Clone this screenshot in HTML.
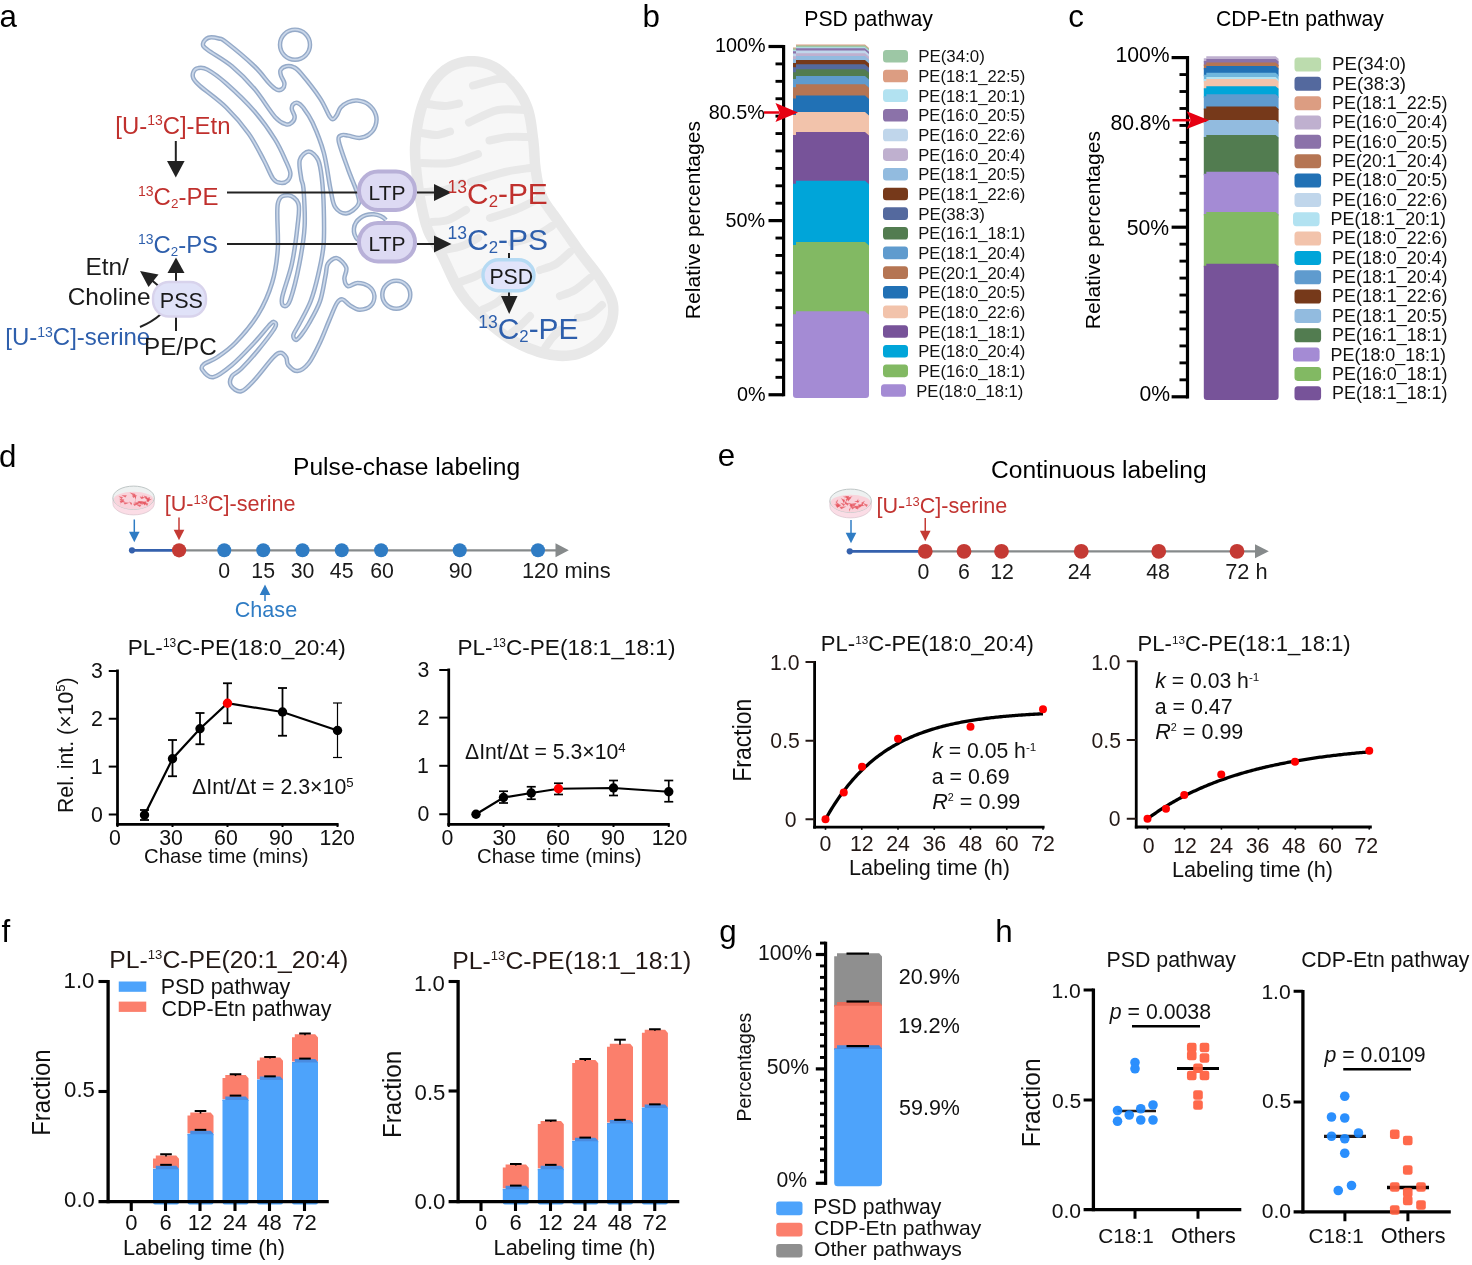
<!DOCTYPE html>
<html lang="en"><head><meta charset="utf-8"><title>Figure</title>
<style>html,body{margin:0;padding:0;background:#fff}svg{display:block}text{white-space:pre}</style>
</head><body>
<svg width="1472" height="1265" viewBox="0 0 1472 1265" font-family='"Liberation Sans", sans-serif' fill="#000">
<rect width="1472" height="1265" fill="#fff"/>
<g id="panel-a">
<text x="-0.45" y="26.90" font-size="31.30">a</text>
<path d="M471.00 56.00C462.67 56.00 454.08 58.50 447.00 62.50C439.92 66.50 433.67 72.42 428.50 80.00C423.33 87.58 419.03 98.00 416.00 108.00C412.97 118.00 411.22 130.50 410.30 140.00C409.38 149.50 409.72 155.00 410.50 165.00C411.28 175.00 412.92 188.83 415.00 200.00C417.08 211.17 419.50 222.83 423.00 232.00C426.50 241.17 430.50 244.50 436.00 255.00C441.50 265.50 448.67 283.83 456.00 295.00C463.33 306.17 471.00 313.67 480.00 322.00C489.00 330.33 499.17 338.83 510.00 345.00C520.83 351.17 534.17 356.50 545.00 359.00C555.83 361.50 565.83 361.83 575.00 360.00C584.17 358.17 593.33 353.33 600.00 348.00C606.67 342.67 612.00 335.50 615.00 328.00C618.00 320.50 619.50 311.33 618.00 303.00C616.50 294.67 611.50 286.83 606.00 278.00C600.50 269.17 592.50 260.33 585.00 250.00C577.50 239.67 567.33 225.17 561.00 216.00C554.67 206.83 550.33 202.67 547.00 195.00C543.67 187.33 542.42 179.17 541.00 170.00C539.58 160.83 539.83 150.33 538.50 140.00C537.17 129.67 536.08 117.33 533.00 108.00C529.92 98.67 526.00 91.58 520.00 84.00C514.00 76.42 505.17 67.17 497.00 62.50C488.83 57.83 479.33 56.00 471.00 56.00Z" fill="#e8e8e8"/>
<path d="M471.0 66.5 L466.2 66.8 L461.3 67.9 L456.6 69.5 L452.2 71.6 L448.1 74.3 L444.2 77.5 L440.6 81.4 L437.2 85.9 L434.0 91.1 L431.1 97.3 L428.4 104.1 L426.1 111.0 L424.2 118.2 L422.7 125.9 L421.6 133.7 L420.8 141.0 L420.3 147.0 L420.3 152.1 L420.5 157.6 L421.0 164.2 L421.7 172.0 L422.7 180.8 L423.9 189.7 L425.3 198.1 L426.9 206.3 L428.7 214.3 L430.6 221.7 L432.8 228.2 L435.0 233.0 L437.6 237.3 L441.1 242.7 L445.3 250.1 L449.9 259.7 L454.8 270.3 L459.9 280.7 L464.8 289.3 L469.8 296.3 L475.1 302.5 L480.8 308.3 L487.1 314.3 L493.8 320.3 L500.8 326.0 L507.9 331.3 L515.2 335.9 L523.0 340.0 L531.4 343.6 L539.7 346.6 L547.4 348.8 L554.4 350.1 L561.0 350.6 L567.1 350.5 L572.9 349.7 L578.3 348.2 L583.8 345.9 L588.9 343.0 L593.4 339.8 L597.2 336.4 L600.5 332.5 L603.2 328.4 L605.3 324.1 L606.8 319.4 L607.8 314.4 L608.1 309.5 L607.7 304.9 L606.4 300.5 L604.2 295.5 L601.0 289.9 L597.1 283.6 L593.0 277.6 L588.0 271.1 L582.4 264.0 L576.5 256.2 L570.4 247.7 L564.0 238.6 L557.8 229.7 L552.4 222.0 L548.2 216.2 L544.4 211.1 L540.7 205.6 L537.4 199.2 L534.8 192.2 L533.0 185.3 L531.7 178.5 L530.6 171.5 L529.7 163.8 L529.2 156.0 L528.8 148.5 L528.1 141.3 L527.1 133.2 L526.0 125.2 L524.7 117.7 L523.0 111.2 L520.9 105.5 L518.4 100.4 L515.4 95.5 L511.8 90.5 L507.2 85.1 L502.0 79.7 L496.7 75.0 L491.8 71.6 L486.9 69.3 L481.7 67.7 L476.3 66.8 Z" fill="#f7f7f7"/>
<path d="M511.00 80.00C508.83 79.83 504.33 78.08 498.00 79.00C491.67 79.92 477.17 84.42 473.00 85.50" fill="none" stroke="#e8e8e8" stroke-width="8" stroke-linecap="round"/>
<path d="M526.00 110.00C521.33 110.00 507.50 107.92 498.00 110.00C488.50 112.08 473.83 120.42 469.00 122.50" fill="none" stroke="#e8e8e8" stroke-width="8" stroke-linecap="round"/>
<path d="M528.00 137.00C524.67 137.00 514.42 136.42 508.00 137.00C501.58 137.58 492.58 139.92 489.50 140.50" fill="none" stroke="#e8e8e8" stroke-width="8" stroke-linecap="round"/>
<path d="M530.00 168.00C525.83 168.67 514.83 169.67 505.00 172.00C495.17 174.33 476.67 180.33 471.00 182.00" fill="none" stroke="#e8e8e8" stroke-width="8" stroke-linecap="round"/>
<path d="M536.00 200.00C532.50 201.67 522.67 207.00 515.00 210.00C507.33 213.00 494.17 216.67 490.00 218.00" fill="none" stroke="#e8e8e8" stroke-width="8" stroke-linecap="round"/>
<path d="M552.00 226.00C549.17 227.67 541.67 233.17 535.00 236.00C528.33 238.83 515.83 241.83 512.00 243.00" fill="none" stroke="#e8e8e8" stroke-width="8" stroke-linecap="round"/>
<path d="M570.00 252.00C567.67 254.00 561.00 261.00 556.00 264.00C551.00 267.00 542.67 269.00 540.00 270.00" fill="none" stroke="#e8e8e8" stroke-width="8" stroke-linecap="round"/>
<path d="M590.00 278.00C587.50 280.00 580.00 287.00 575.00 290.00C570.00 293.00 562.50 295.00 560.00 296.00" fill="none" stroke="#e8e8e8" stroke-width="8" stroke-linecap="round"/>
<path d="M602.00 305.00C600.00 306.67 594.00 312.83 590.00 315.00C586.00 317.17 580.00 317.50 578.00 318.00" fill="none" stroke="#e8e8e8" stroke-width="8" stroke-linecap="round"/>
<path d="M428.00 104.00C430.83 104.33 439.83 106.08 445.00 106.00C450.17 105.92 456.67 103.92 459.00 103.50" fill="none" stroke="#e8e8e8" stroke-width="8" stroke-linecap="round"/>
<path d="M422.00 133.00C424.50 133.33 432.33 135.25 437.00 135.00C441.67 134.75 447.83 132.08 450.00 131.50" fill="none" stroke="#e8e8e8" stroke-width="8" stroke-linecap="round"/>
<path d="M422.00 163.00C426.67 163.00 440.67 164.50 450.00 163.00C459.33 161.50 473.33 155.50 478.00 154.00" fill="none" stroke="#e8e8e8" stroke-width="8" stroke-linecap="round"/>
<path d="M425.00 192.00C428.33 191.67 438.83 191.50 445.00 190.00C451.17 188.50 459.17 184.17 462.00 183.00" fill="none" stroke="#e8e8e8" stroke-width="8" stroke-linecap="round"/>
<path d="M432.00 222.00C434.67 221.67 442.33 222.00 448.00 220.00C453.67 218.00 463.00 211.67 466.00 210.00" fill="none" stroke="#e8e8e8" stroke-width="8" stroke-linecap="round"/>
<path d="M444.00 250.00C447.00 249.33 456.33 248.00 462.00 246.00C467.67 244.00 475.33 239.33 478.00 238.00" fill="none" stroke="#e8e8e8" stroke-width="8" stroke-linecap="round"/>
<path d="M460.00 282.00C462.67 281.00 471.00 278.33 476.00 276.00C481.00 273.67 487.67 269.33 490.00 268.00" fill="none" stroke="#e8e8e8" stroke-width="8" stroke-linecap="round"/>
<path d="M482.00 310.00C484.33 308.83 491.67 305.83 496.00 303.00C500.33 300.17 506.00 294.67 508.00 293.00" fill="none" stroke="#e8e8e8" stroke-width="8" stroke-linecap="round"/>
<path d="M510.00 334.00C511.67 332.67 516.67 329.00 520.00 326.00C523.33 323.00 528.33 317.67 530.00 316.00" fill="none" stroke="#e8e8e8" stroke-width="8" stroke-linecap="round"/>
<path d="M545.00 348.00C546.17 346.33 549.50 341.00 552.00 338.00C554.50 335.00 558.67 331.33 560.00 330.00" fill="none" stroke="#e8e8e8" stroke-width="8" stroke-linecap="round"/>
<path d="M208.44 37.75C211.06 36.88 215.78 37.75 218.75 38.50C221.72 39.25 220.31 37.63 226.25 42.25C232.19 46.88 247.19 59.38 254.38 66.25C261.56 73.13 265.63 79.59 269.38 83.50C273.13 87.41 274.69 88.81 276.88 89.69C279.06 90.56 281.25 89.84 282.50 88.75C283.75 87.66 284.63 85.31 284.38 83.13C284.13 80.94 281.63 77.81 281.00 75.63C280.38 73.44 279.75 71.56 280.63 70.00C281.50 68.44 284.06 66.72 286.25 66.25C288.44 65.78 291.25 65.94 293.75 67.19C296.25 68.44 296.88 68.59 301.25 73.75C305.63 78.91 315.31 91.09 320.00 98.13C324.69 105.16 327.19 112.44 329.38 115.94C331.56 119.44 331.88 119.28 333.13 119.13C334.38 118.97 335.63 116.94 336.88 115.00C338.13 113.06 338.75 109.63 340.63 107.50C342.50 105.38 345.31 103.41 348.13 102.25C350.94 101.09 354.06 100.16 357.50 100.56C360.94 100.97 365.69 102.28 368.75 104.69C371.81 107.09 374.78 111.41 375.88 115.00C376.97 118.59 376.50 122.97 375.31 126.25C374.13 129.53 371.41 132.75 368.75 134.69C366.09 136.63 362.81 137.72 359.38 137.88C355.94 138.03 351.09 136.06 348.13 135.63C345.16 135.19 343.13 134.31 341.56 135.25C340.00 136.19 337.66 135.56 338.75 141.25C339.84 146.94 345.00 160.63 348.13 169.38C351.25 178.13 355.84 187.81 357.50 193.75C359.16 199.69 359.94 201.72 358.06 205.00C356.19 208.28 350.09 213.13 346.25 213.44C342.41 213.75 337.66 211.10 335.00 206.88C332.34 202.66 332.19 197.19 330.31 188.13C328.44 179.06 326.72 163.44 323.75 152.50C320.78 141.56 315.94 130.00 312.50 122.50C309.06 115.00 305.63 110.78 303.13 107.50C300.63 104.22 299.22 103.28 297.50 102.81C295.78 102.34 293.75 103.59 292.81 104.69C291.88 105.78 291.56 107.34 291.88 109.38C292.19 111.41 294.69 114.69 294.69 116.88C294.69 119.06 293.28 121.25 291.88 122.50C290.47 123.75 289.06 125.31 286.25 124.38C283.44 123.44 280.31 122.81 275.00 116.88C269.69 110.94 261.56 97.19 254.38 88.75C247.19 80.31 239.69 72.75 231.88 66.25C224.06 59.75 212.31 53.50 207.50 49.75C202.69 46.00 202.84 45.75 203.00 43.75C203.16 41.75 205.81 38.63 208.44 37.75Z" fill="none" stroke="#95aac8" stroke-width="4.5" stroke-linejoin="round"/>
<path d="M208.44 37.75C211.06 36.88 215.78 37.75 218.75 38.50C221.72 39.25 220.31 37.63 226.25 42.25C232.19 46.88 247.19 59.38 254.38 66.25C261.56 73.13 265.63 79.59 269.38 83.50C273.13 87.41 274.69 88.81 276.88 89.69C279.06 90.56 281.25 89.84 282.50 88.75C283.75 87.66 284.63 85.31 284.38 83.13C284.13 80.94 281.63 77.81 281.00 75.63C280.38 73.44 279.75 71.56 280.63 70.00C281.50 68.44 284.06 66.72 286.25 66.25C288.44 65.78 291.25 65.94 293.75 67.19C296.25 68.44 296.88 68.59 301.25 73.75C305.63 78.91 315.31 91.09 320.00 98.13C324.69 105.16 327.19 112.44 329.38 115.94C331.56 119.44 331.88 119.28 333.13 119.13C334.38 118.97 335.63 116.94 336.88 115.00C338.13 113.06 338.75 109.63 340.63 107.50C342.50 105.38 345.31 103.41 348.13 102.25C350.94 101.09 354.06 100.16 357.50 100.56C360.94 100.97 365.69 102.28 368.75 104.69C371.81 107.09 374.78 111.41 375.88 115.00C376.97 118.59 376.50 122.97 375.31 126.25C374.13 129.53 371.41 132.75 368.75 134.69C366.09 136.63 362.81 137.72 359.38 137.88C355.94 138.03 351.09 136.06 348.13 135.63C345.16 135.19 343.13 134.31 341.56 135.25C340.00 136.19 337.66 135.56 338.75 141.25C339.84 146.94 345.00 160.63 348.13 169.38C351.25 178.13 355.84 187.81 357.50 193.75C359.16 199.69 359.94 201.72 358.06 205.00C356.19 208.28 350.09 213.13 346.25 213.44C342.41 213.75 337.66 211.10 335.00 206.88C332.34 202.66 332.19 197.19 330.31 188.13C328.44 179.06 326.72 163.44 323.75 152.50C320.78 141.56 315.94 130.00 312.50 122.50C309.06 115.00 305.63 110.78 303.13 107.50C300.63 104.22 299.22 103.28 297.50 102.81C295.78 102.34 293.75 103.59 292.81 104.69C291.88 105.78 291.56 107.34 291.88 109.38C292.19 111.41 294.69 114.69 294.69 116.88C294.69 119.06 293.28 121.25 291.88 122.50C290.47 123.75 289.06 125.31 286.25 124.38C283.44 123.44 280.31 122.81 275.00 116.88C269.69 110.94 261.56 97.19 254.38 88.75C247.19 80.31 239.69 72.75 231.88 66.25C224.06 59.75 212.31 53.50 207.50 49.75C202.69 46.00 202.84 45.75 203.00 43.75C203.16 41.75 205.81 38.63 208.44 37.75Z" fill="none" stroke="#cad7e9" stroke-width="1.7" stroke-linejoin="round"/>
<path d="M198.13 68.13C200.47 67.75 202.81 67.06 207.50 69.63C212.19 72.19 218.44 76.56 226.25 83.50C234.06 90.44 246.25 101.94 254.38 111.25C262.50 120.56 269.69 130.94 275.00 139.38C280.31 147.81 283.69 156.25 286.25 161.88C288.81 167.50 290.13 170.00 290.38 173.13C290.63 176.25 289.38 179.00 287.75 180.63C286.13 182.25 283.06 183.19 280.63 182.88C278.19 182.56 275.94 182.56 273.13 178.75C270.31 174.94 267.81 167.50 263.75 160.00C259.69 152.50 255.00 142.50 248.75 133.75C242.50 125.00 234.38 115.47 226.25 107.50C218.13 99.53 205.47 90.78 200.00 85.94C194.53 81.09 194.53 80.78 193.44 78.44C192.34 76.09 192.66 73.59 193.44 71.88C194.22 70.16 195.78 68.50 198.13 68.13Z" fill="none" stroke="#95aac8" stroke-width="4.5" stroke-linejoin="round"/>
<path d="M198.13 68.13C200.47 67.75 202.81 67.06 207.50 69.63C212.19 72.19 218.44 76.56 226.25 83.50C234.06 90.44 246.25 101.94 254.38 111.25C262.50 120.56 269.69 130.94 275.00 139.38C280.31 147.81 283.69 156.25 286.25 161.88C288.81 167.50 290.13 170.00 290.38 173.13C290.63 176.25 289.38 179.00 287.75 180.63C286.13 182.25 283.06 183.19 280.63 182.88C278.19 182.56 275.94 182.56 273.13 178.75C270.31 174.94 267.81 167.50 263.75 160.00C259.69 152.50 255.00 142.50 248.75 133.75C242.50 125.00 234.38 115.47 226.25 107.50C218.13 99.53 205.47 90.78 200.00 85.94C194.53 81.09 194.53 80.78 193.44 78.44C192.34 76.09 192.66 73.59 193.44 71.88C194.22 70.16 195.78 68.50 198.13 68.13Z" fill="none" stroke="#cad7e9" stroke-width="1.7" stroke-linejoin="round"/>
<path d="M308.75 151.56C311.81 151.56 315.94 155.47 318.13 160.00C320.31 164.53 320.94 170.83 321.88 178.75C322.81 186.67 323.47 196.46 323.75 207.50C324.03 218.54 324.50 233.75 323.56 245.00C322.63 256.25 320.28 265.63 318.13 275.00C315.97 284.38 313.75 293.13 310.63 301.25C307.50 309.38 302.25 318.13 299.38 323.75C296.50 329.38 293.94 332.31 293.38 335.00C292.81 337.69 294.69 339.88 296.00 339.88C297.31 339.88 299.13 337.69 301.25 335.00C303.38 332.31 305.63 329.38 308.75 323.75C311.88 318.13 317.19 309.38 320.00 301.25C322.81 293.13 324.31 281.25 325.63 275.00C326.94 268.75 326.00 266.56 327.88 263.75C329.75 260.94 333.81 257.50 336.88 258.13C339.94 258.75 345.00 264.06 346.25 267.50C347.50 270.94 344.06 275.63 344.38 278.75C344.69 281.88 345.94 285.56 348.13 286.25C350.31 286.94 354.06 282.88 357.50 282.88C360.94 282.88 365.94 284.13 368.75 286.25C371.56 288.38 374.06 292.34 374.38 295.63C374.69 298.91 373.13 303.59 370.63 305.94C368.13 308.28 362.81 309.78 359.38 309.69C355.94 309.59 352.81 307.09 350.00 305.38C347.19 303.66 344.69 299.75 342.50 299.38C340.31 299.00 339.06 299.69 336.88 303.13C334.69 306.56 332.19 313.44 329.38 320.00C326.56 326.56 323.44 335.31 320.00 342.50C316.56 349.69 312.50 358.38 308.75 363.13C305.00 367.88 300.94 370.69 297.50 371.00C294.06 371.31 290.00 367.25 288.13 365.00C286.25 362.75 287.50 359.53 286.25 357.50C285.00 355.47 282.81 352.81 280.63 352.81C278.44 352.81 277.50 352.97 273.13 357.50C268.75 362.03 259.69 374.38 254.38 380.00C249.06 385.63 245.16 390.31 241.25 391.25C237.34 392.19 232.50 388.13 230.94 385.63C229.38 383.13 230.16 379.06 231.88 376.25C233.59 373.44 236.88 373.13 241.25 368.75C245.63 364.38 252.50 356.88 258.13 350.00C263.75 343.13 272.44 332.19 275.00 327.50C277.56 322.81 274.50 322.19 273.50 321.88C272.50 321.56 272.19 322.19 269.00 325.63C265.81 329.06 260.56 335.94 254.38 342.50C248.19 349.06 238.75 359.22 231.88 365.00C225.00 370.78 218.06 376.41 213.13 377.19C208.19 377.97 203.75 371.88 202.25 369.69C200.75 367.50 201.69 366.09 204.13 364.06C206.56 362.03 211.63 361.09 216.88 357.50C222.13 353.91 228.75 349.69 235.63 342.50C242.50 335.31 252.03 324.38 258.13 314.38C264.22 304.38 268.91 293.44 272.19 282.50C275.47 271.56 276.88 261.88 277.81 248.75C278.75 235.63 276.09 212.66 277.81 203.75C279.53 194.84 284.69 195.31 288.13 195.31C291.56 195.31 296.88 198.59 298.44 203.75C300.00 208.91 298.59 216.25 297.50 226.25C296.41 236.25 294.44 251.88 291.88 263.75C289.31 275.63 283.38 290.44 282.13 297.50C280.88 304.56 283.00 305.81 284.38 306.13C285.75 306.44 287.88 306.44 290.38 299.38C292.88 292.31 297.00 275.94 299.38 263.75C301.75 251.56 303.94 238.75 304.63 226.25C305.31 213.75 304.06 196.67 303.50 188.75C302.94 180.83 301.88 183.54 301.25 178.75C300.63 173.96 298.50 164.53 299.75 160.00C301.00 155.47 305.69 151.56 308.75 151.56Z" fill="none" stroke="#95aac8" stroke-width="4.5" stroke-linejoin="round"/>
<path d="M308.75 151.56C311.81 151.56 315.94 155.47 318.13 160.00C320.31 164.53 320.94 170.83 321.88 178.75C322.81 186.67 323.47 196.46 323.75 207.50C324.03 218.54 324.50 233.75 323.56 245.00C322.63 256.25 320.28 265.63 318.13 275.00C315.97 284.38 313.75 293.13 310.63 301.25C307.50 309.38 302.25 318.13 299.38 323.75C296.50 329.38 293.94 332.31 293.38 335.00C292.81 337.69 294.69 339.88 296.00 339.88C297.31 339.88 299.13 337.69 301.25 335.00C303.38 332.31 305.63 329.38 308.75 323.75C311.88 318.13 317.19 309.38 320.00 301.25C322.81 293.13 324.31 281.25 325.63 275.00C326.94 268.75 326.00 266.56 327.88 263.75C329.75 260.94 333.81 257.50 336.88 258.13C339.94 258.75 345.00 264.06 346.25 267.50C347.50 270.94 344.06 275.63 344.38 278.75C344.69 281.88 345.94 285.56 348.13 286.25C350.31 286.94 354.06 282.88 357.50 282.88C360.94 282.88 365.94 284.13 368.75 286.25C371.56 288.38 374.06 292.34 374.38 295.63C374.69 298.91 373.13 303.59 370.63 305.94C368.13 308.28 362.81 309.78 359.38 309.69C355.94 309.59 352.81 307.09 350.00 305.38C347.19 303.66 344.69 299.75 342.50 299.38C340.31 299.00 339.06 299.69 336.88 303.13C334.69 306.56 332.19 313.44 329.38 320.00C326.56 326.56 323.44 335.31 320.00 342.50C316.56 349.69 312.50 358.38 308.75 363.13C305.00 367.88 300.94 370.69 297.50 371.00C294.06 371.31 290.00 367.25 288.13 365.00C286.25 362.75 287.50 359.53 286.25 357.50C285.00 355.47 282.81 352.81 280.63 352.81C278.44 352.81 277.50 352.97 273.13 357.50C268.75 362.03 259.69 374.38 254.38 380.00C249.06 385.63 245.16 390.31 241.25 391.25C237.34 392.19 232.50 388.13 230.94 385.63C229.38 383.13 230.16 379.06 231.88 376.25C233.59 373.44 236.88 373.13 241.25 368.75C245.63 364.38 252.50 356.88 258.13 350.00C263.75 343.13 272.44 332.19 275.00 327.50C277.56 322.81 274.50 322.19 273.50 321.88C272.50 321.56 272.19 322.19 269.00 325.63C265.81 329.06 260.56 335.94 254.38 342.50C248.19 349.06 238.75 359.22 231.88 365.00C225.00 370.78 218.06 376.41 213.13 377.19C208.19 377.97 203.75 371.88 202.25 369.69C200.75 367.50 201.69 366.09 204.13 364.06C206.56 362.03 211.63 361.09 216.88 357.50C222.13 353.91 228.75 349.69 235.63 342.50C242.50 335.31 252.03 324.38 258.13 314.38C264.22 304.38 268.91 293.44 272.19 282.50C275.47 271.56 276.88 261.88 277.81 248.75C278.75 235.63 276.09 212.66 277.81 203.75C279.53 194.84 284.69 195.31 288.13 195.31C291.56 195.31 296.88 198.59 298.44 203.75C300.00 208.91 298.59 216.25 297.50 226.25C296.41 236.25 294.44 251.88 291.88 263.75C289.31 275.63 283.38 290.44 282.13 297.50C280.88 304.56 283.00 305.81 284.38 306.13C285.75 306.44 287.88 306.44 290.38 299.38C292.88 292.31 297.00 275.94 299.38 263.75C301.75 251.56 303.94 238.75 304.63 226.25C305.31 213.75 304.06 196.67 303.50 188.75C302.94 180.83 301.88 183.54 301.25 178.75C300.63 173.96 298.50 164.53 299.75 160.00C301.00 155.47 305.69 151.56 308.75 151.56Z" fill="none" stroke="#cad7e9" stroke-width="1.7" stroke-linejoin="round"/>
<circle cx="295.00" cy="44.70" r="15.00" fill="none" stroke="#95aac8" stroke-width="4.50"/>
<circle cx="295.00" cy="44.70" r="15.00" fill="none" stroke="#cad7e9" stroke-width="1.70"/>
<circle cx="396.30" cy="294.70" r="14.00" fill="none" stroke="#95aac8" stroke-width="4.50"/>
<circle cx="396.30" cy="294.70" r="14.00" fill="none" stroke="#cad7e9" stroke-width="1.70"/>
<path d="M386 220 A15 13 0 1 0 358 240" fill="none" stroke="#95aac8" stroke-width="4.5"/>
<path d="M386 220 A15 13 0 1 0 358 240" fill="none" stroke="#cad7e9" stroke-width="1.7"/>
<text x="115.25" y="134.10" font-size="23.92" fill="#c0302d">[U-<tspan font-size="13.99" dy="-8.61">13</tspan><tspan dy="8.61">C]-Etn</tspan></text>
<line x1="175.80" y1="141.00" x2="175.80" y2="163.00" stroke="#222" stroke-width="2.00"/>
<polygon points="167.00,161.00 184.60,161.00 175.80,177.50" fill="#222"/>
<text x="138.00" y="204.90" font-size="23.99" fill="#c0302d"><tspan font-size="14.03" dy="-8.63">13</tspan><tspan dy="8.63">C</tspan><tspan font-size="13.43" dy="2.64">2</tspan><tspan dy="-2.64">-PE</tspan></text>
<text x="138.01" y="252.90" font-size="23.91" fill="#2e5fac" textLength="80.00" lengthAdjust="spacingAndGlyphs"><tspan font-size="13.99" dy="-8.61">13</tspan><tspan dy="8.61">C</tspan><tspan font-size="13.39" dy="2.63">2</tspan><tspan dy="-2.63">-PS</tspan></text>
<line x1="227.00" y1="192.50" x2="360.00" y2="192.50" stroke="#222" stroke-width="2.00"/>
<line x1="227.00" y1="244.00" x2="360.00" y2="244.00" stroke="#222" stroke-width="2.00"/>
<rect x="359.00" y="171.50" width="56.00" height="38.50" fill="#dddaf3" rx="19.00" stroke="#b8b0d8" stroke-width="4.00"/>
<text x="368.62" y="199.50" font-size="21.00" fill="#1a1a1a">LTP</text>
<line x1="417.00" y1="192.50" x2="436.00" y2="192.50" stroke="#222" stroke-width="2.00"/>
<polygon points="434.00,184.00 434.00,201.00 451.50,192.50" fill="#222"/>
<rect x="359.00" y="223.00" width="56.00" height="38.50" fill="#dddaf3" rx="19.00" stroke="#b8b0d8" stroke-width="4.00"/>
<text x="368.62" y="251.00" font-size="21.00" fill="#1a1a1a">LTP</text>
<line x1="417.00" y1="244.00" x2="436.00" y2="244.00" stroke="#222" stroke-width="2.00"/>
<polygon points="434.00,235.50 434.00,252.50 451.50,244.00" fill="#222"/>
<text x="447.55" y="203.70" font-size="29.92" fill="#c0302d"><tspan font-size="17.50" dy="-10.77">13</tspan><tspan dy="10.77">C</tspan><tspan font-size="16.76" dy="3.29">2</tspan><tspan dy="-3.29">-PE</tspan></text>
<text x="447.55" y="249.50" font-size="30.00" fill="#2e5fac"><tspan font-size="17.55" dy="-10.80">13</tspan><tspan dy="10.80">C</tspan><tspan font-size="16.80" dy="3.30">2</tspan><tspan dy="-3.30">-PS</tspan></text>
<line x1="509.00" y1="253.00" x2="509.00" y2="298.00" stroke="#222" stroke-width="2.00"/>
<rect x="483.00" y="259.70" width="51.00" height="31.00" fill="#e1e4fa" rx="15.50" stroke="#b5daf3" stroke-width="3.40"/>
<text x="489.40" y="284.40" font-size="21.30" fill="#1a1a1a">PSD</text>
<polygon points="501.00,296.00 517.50,296.00 509.20,314.00" fill="#222"/>
<text x="478.25" y="338.70" font-size="29.92" fill="#2e5fac"><tspan font-size="17.50" dy="-10.77">13</tspan><tspan dy="10.77">C</tspan><tspan font-size="16.76" dy="3.29">2</tspan><tspan dy="-3.29">-PE</tspan></text>
<text x="85.49" y="275.40" font-size="24.33" fill="#1a1a1a" textLength="43.40" lengthAdjust="spacingAndGlyphs">Etn/</text>
<text x="67.74" y="305.40" font-size="24.36" fill="#1a1a1a" textLength="82.75" lengthAdjust="spacingAndGlyphs">Choline</text>
<line x1="176.00" y1="270.00" x2="176.00" y2="283.00" stroke="#222" stroke-width="2.00"/>
<polygon points="167.50,273.00 184.50,273.00 176.00,257.50" fill="#222"/>
<line x1="158.00" y1="285.50" x2="148.00" y2="277.00" stroke="#222" stroke-width="2.00"/>
<polygon points="140.00,271.00 158.50,274.50 148.50,287.00" fill="#222"/>
<path d="M140 327 Q152 322 160.5 314.5" fill="none" stroke="#222" stroke-width="2"/>
<line x1="176.00" y1="317.00" x2="176.00" y2="331.00" stroke="#222" stroke-width="2.00"/>
<rect x="153.00" y="282.00" width="53.00" height="34.50" fill="#e0e2f8" rx="16.00" stroke="#d8d3ec" stroke-width="2.40"/>
<text x="159.75" y="307.90" font-size="21.60" fill="#1a1a1a">PSS</text>
<text x="5.24" y="345.40" font-size="24.00" fill="#2e5fac">[U-<tspan font-size="14.04" dy="-8.64">13</tspan><tspan dy="8.64">C]-serine</tspan></text>
<text x="143.99" y="355.40" font-size="24.25" fill="#1a1a1a">PE/PC</text>
</g>
<g id="panel-b">
<text x="642.50" y="26.90" font-size="31.30">b</text>
<text x="804.25" y="26.40" font-size="21.23">PSD pathway</text>
<line x1="783.60" y1="44.90" x2="783.60" y2="396.35" stroke="#000" stroke-width="3.20"/>
<line x1="768.50" y1="46.50" x2="783.60" y2="46.50" stroke="#000" stroke-width="3.20"/>
<line x1="775.50" y1="63.91" x2="783.60" y2="63.91" stroke="#000" stroke-width="2.88"/>
<line x1="775.50" y1="81.33" x2="783.60" y2="81.33" stroke="#000" stroke-width="2.88"/>
<line x1="775.50" y1="98.74" x2="783.60" y2="98.74" stroke="#000" stroke-width="2.88"/>
<line x1="775.50" y1="116.15" x2="783.60" y2="116.15" stroke="#000" stroke-width="2.88"/>
<line x1="775.50" y1="133.56" x2="783.60" y2="133.56" stroke="#000" stroke-width="2.88"/>
<line x1="775.50" y1="150.97" x2="783.60" y2="150.97" stroke="#000" stroke-width="2.88"/>
<line x1="775.50" y1="168.39" x2="783.60" y2="168.39" stroke="#000" stroke-width="2.88"/>
<line x1="775.50" y1="185.80" x2="783.60" y2="185.80" stroke="#000" stroke-width="2.88"/>
<line x1="775.50" y1="203.21" x2="783.60" y2="203.21" stroke="#000" stroke-width="2.88"/>
<line x1="768.50" y1="220.62" x2="783.60" y2="220.62" stroke="#000" stroke-width="3.20"/>
<line x1="775.50" y1="238.04" x2="783.60" y2="238.04" stroke="#000" stroke-width="2.88"/>
<line x1="775.50" y1="255.45" x2="783.60" y2="255.45" stroke="#000" stroke-width="2.88"/>
<line x1="775.50" y1="272.86" x2="783.60" y2="272.86" stroke="#000" stroke-width="2.88"/>
<line x1="775.50" y1="290.27" x2="783.60" y2="290.27" stroke="#000" stroke-width="2.88"/>
<line x1="775.50" y1="307.69" x2="783.60" y2="307.69" stroke="#000" stroke-width="2.88"/>
<line x1="775.50" y1="325.10" x2="783.60" y2="325.10" stroke="#000" stroke-width="2.88"/>
<line x1="775.50" y1="342.51" x2="783.60" y2="342.51" stroke="#000" stroke-width="2.88"/>
<line x1="775.50" y1="359.93" x2="783.60" y2="359.93" stroke="#000" stroke-width="2.88"/>
<line x1="775.50" y1="377.34" x2="783.60" y2="377.34" stroke="#000" stroke-width="2.88"/>
<line x1="768.50" y1="394.75" x2="783.60" y2="394.75" stroke="#000" stroke-width="3.20"/>
<text x="715.00" y="52.40" font-size="19.80">100%</text>
<text x="708.75" y="119.20" font-size="19.80" textLength="56.26" lengthAdjust="spacingAndGlyphs">80.5%</text>
<text x="725.38" y="227.40" font-size="19.80">50%</text>
<text x="736.88" y="401.40" font-size="19.80">0%</text>
<text x="700.00" y="319.25" font-size="21.12" transform="rotate(-90 700.00 319.25)">Relative percentages</text>
<path d="M793.00 47.40 L796.00 47.40 L796.00 44.40 L865.00 44.40 L869.00 47.90 L869.00 50.10 L793.00 50.10 Z" fill="#dc9d82"/>
<path d="M793.00 48.60 L796.00 48.60 L796.00 45.60 L865.00 45.60 L869.00 49.10 L869.00 51.70 L793.00 51.70 Z" fill="#9dc7a5"/>
<path d="M793.00 50.20 L796.00 50.20 L796.00 47.20 L865.00 47.20 L869.00 50.70 L869.00 52.80 L793.00 52.80 Z" fill="#b2e2f1"/>
<path d="M793.00 51.30 L796.00 51.30 L796.00 48.30 L865.00 48.30 L869.00 51.80 L869.00 55.00 L793.00 55.00 Z" fill="#8b72a9"/>
<path d="M793.00 53.50 L796.00 53.50 L796.00 50.50 L865.00 50.50 L869.00 54.00 L869.00 57.70 L793.00 57.70 Z" fill="#c0d6eb"/>
<path d="M793.00 56.20 L796.00 56.20 L796.00 53.20 L865.00 53.20 L869.00 56.70 L869.00 60.50 L793.00 60.50 Z" fill="#bfb0cf"/>
<path d="M793.00 59.00 L796.00 59.00 L796.00 56.00 L865.00 56.00 L869.00 59.50 L869.00 64.40 L793.00 64.40 Z" fill="#92bbdf"/>
<path d="M793.00 62.90 L796.00 62.90 L796.00 59.90 L865.00 59.90 L869.00 63.40 L869.00 68.80 L793.00 68.80 Z" fill="#76391a"/>
<path d="M793.00 67.30 L796.00 67.30 L796.00 64.30 L865.00 64.30 L869.00 67.80 L869.00 73.80 L793.00 73.80 Z" fill="#54699e"/>
<path d="M793.00 72.30 L796.00 72.30 L796.00 69.30 L865.00 69.30 L869.00 72.80 L869.00 80.40 L793.00 80.40 Z" fill="#527c50"/>
<path d="M793.00 78.90 L796.00 78.90 L796.00 75.90 L865.00 75.90 L869.00 79.40 L869.00 88.80 L793.00 88.80 Z" fill="#5f9bce"/>
<path d="M793.00 87.30 L796.00 87.30 L796.00 84.30 L865.00 84.30 L869.00 87.80 L869.00 100.00 L793.00 100.00 Z" fill="#b57553"/>
<path d="M793.00 98.50 L796.00 98.50 L796.00 95.50 L865.00 95.50 L869.00 99.00 L869.00 116.50 L793.00 116.50 Z" fill="#2171b5"/>
<path d="M793.00 115.00 L796.00 115.00 L796.00 112.00 L865.00 112.00 L869.00 115.50 L869.00 136.50 L793.00 136.50 Z" fill="#f2c3ab"/>
<path d="M793.00 135.00 L796.00 135.00 L796.00 132.00 L865.00 132.00 L869.00 135.50 L869.00 185.25 L793.00 185.25 Z" fill="#775399"/>
<path d="M793.00 183.75 L796.00 183.75 L796.00 180.75 L865.00 180.75 L869.00 184.25 L869.00 246.50 L793.00 246.50 Z" fill="#00a5d9"/>
<path d="M793.00 245.00 L796.00 245.00 L796.00 242.00 L865.00 242.00 L869.00 245.50 L869.00 315.75 L793.00 315.75 Z" fill="#82b963"/>
<path d="M793.00 314.25 L796.00 314.25 L796.00 311.25 L865.00 311.25 L869.00 314.75 L869.00 394.80 Q869.00 398.00 865.80 398.00 L796.20 398.00 Q793.00 398.00 793.00 394.80 Z" fill="#a48bd4"/>
<line x1="764.00" y1="112.50" x2="779.50" y2="112.50" stroke="#e60012" stroke-width="2.50"/>
<polygon points="775.50,103.00 798.00,112.50 775.50,122.00 779.70,112.50" fill="#e60012"/>
<rect x="883.00" y="50.00" width="25.00" height="12.60" rx="3.2" ry="3.6" fill="#9dc7a5"/>
<text x="918.24" y="62.40" font-size="16.75" fill="#111" textLength="66.62" lengthAdjust="spacingAndGlyphs">PE(34:0)</text>
<rect x="883.00" y="69.66" width="25.00" height="12.60" rx="3.2" ry="3.6" fill="#dc9d82"/>
<text x="918.24" y="82.06" font-size="16.53" fill="#111" textLength="107.17" lengthAdjust="spacingAndGlyphs">PE(18:1_22:5)</text>
<rect x="883.00" y="89.32" width="25.00" height="12.60" rx="3.2" ry="3.6" fill="#b2e2f1"/>
<text x="918.24" y="101.72" font-size="16.53" fill="#111" textLength="107.17" lengthAdjust="spacingAndGlyphs">PE(18:1_20:1)</text>
<rect x="883.00" y="108.99" width="25.00" height="12.60" rx="3.2" ry="3.6" fill="#8b72a9"/>
<text x="918.24" y="121.39" font-size="16.53" fill="#111" textLength="107.17" lengthAdjust="spacingAndGlyphs">PE(16:0_20:5)</text>
<rect x="883.00" y="128.65" width="25.00" height="12.60" rx="3.2" ry="3.6" fill="#c0d6eb"/>
<text x="918.24" y="141.05" font-size="16.53" fill="#111" textLength="107.17" lengthAdjust="spacingAndGlyphs">PE(16:0_22:6)</text>
<rect x="883.00" y="148.31" width="25.00" height="12.60" rx="3.2" ry="3.6" fill="#bfb0cf"/>
<text x="918.24" y="160.71" font-size="16.53" fill="#111" textLength="107.17" lengthAdjust="spacingAndGlyphs">PE(16:0_20:4)</text>
<rect x="883.00" y="167.97" width="25.00" height="12.60" rx="3.2" ry="3.6" fill="#92bbdf"/>
<text x="918.24" y="180.37" font-size="16.53" fill="#111" textLength="107.17" lengthAdjust="spacingAndGlyphs">PE(18:1_20:5)</text>
<rect x="883.00" y="187.63" width="25.00" height="12.60" rx="3.2" ry="3.6" fill="#76391a"/>
<text x="918.24" y="200.03" font-size="16.53" fill="#111" textLength="107.17" lengthAdjust="spacingAndGlyphs">PE(18:1_22:6)</text>
<rect x="883.00" y="207.30" width="25.00" height="12.60" rx="3.2" ry="3.6" fill="#54699e"/>
<text x="918.24" y="219.70" font-size="16.75" fill="#111" textLength="66.62" lengthAdjust="spacingAndGlyphs">PE(38:3)</text>
<rect x="883.00" y="226.96" width="25.00" height="12.60" rx="3.2" ry="3.6" fill="#527c50"/>
<text x="918.24" y="239.36" font-size="16.53" fill="#111" textLength="107.17" lengthAdjust="spacingAndGlyphs">PE(16:1_18:1)</text>
<rect x="883.00" y="246.62" width="25.00" height="12.60" rx="3.2" ry="3.6" fill="#5f9bce"/>
<text x="918.24" y="259.02" font-size="16.53" fill="#111" textLength="107.17" lengthAdjust="spacingAndGlyphs">PE(18:1_20:4)</text>
<rect x="883.00" y="266.28" width="25.00" height="12.60" rx="3.2" ry="3.6" fill="#b57553"/>
<text x="918.24" y="278.68" font-size="16.53" fill="#111" textLength="107.17" lengthAdjust="spacingAndGlyphs">PE(20:1_20:4)</text>
<rect x="883.00" y="285.94" width="25.00" height="12.60" rx="3.2" ry="3.6" fill="#2171b5"/>
<text x="918.24" y="298.34" font-size="16.53" fill="#111" textLength="107.17" lengthAdjust="spacingAndGlyphs">PE(18:0_20:5)</text>
<rect x="883.00" y="305.61" width="25.00" height="12.60" rx="3.2" ry="3.6" fill="#f2c3ab"/>
<text x="918.24" y="318.01" font-size="16.53" fill="#111" textLength="107.17" lengthAdjust="spacingAndGlyphs">PE(18:0_22:6)</text>
<rect x="883.00" y="325.27" width="25.00" height="12.60" rx="3.2" ry="3.6" fill="#775399"/>
<text x="918.24" y="337.67" font-size="16.53" fill="#111" textLength="107.17" lengthAdjust="spacingAndGlyphs">PE(18:1_18:1)</text>
<rect x="883.00" y="344.93" width="25.00" height="12.60" rx="3.2" ry="3.6" fill="#00a5d9"/>
<text x="918.24" y="357.33" font-size="16.53" fill="#111" textLength="107.17" lengthAdjust="spacingAndGlyphs">PE(18:0_20:4)</text>
<rect x="883.00" y="364.59" width="25.00" height="12.60" rx="3.2" ry="3.6" fill="#82b963"/>
<text x="918.24" y="376.99" font-size="16.53" fill="#111" textLength="107.17" lengthAdjust="spacingAndGlyphs">PE(16:0_18:1)</text>
<rect x="881.00" y="384.25" width="25.00" height="12.60" rx="3.2" ry="3.6" fill="#a48bd4"/>
<text x="916.24" y="396.65" font-size="16.53" fill="#111" textLength="107.17" lengthAdjust="spacingAndGlyphs">PE(18:0_18:1)</text>
</g>
<g id="panel-c">
<text x="1068.25" y="26.70" font-size="31.30">c</text>
<text x="1216.01" y="26.40" font-size="21.20" textLength="167.87" lengthAdjust="spacingAndGlyphs">CDP-Etn pathway</text>
<line x1="1187.50" y1="56.00" x2="1187.50" y2="398.40" stroke="#000" stroke-width="3.20"/>
<line x1="1171.60" y1="57.60" x2="1187.50" y2="57.60" stroke="#000" stroke-width="3.20"/>
<line x1="1179.50" y1="74.56" x2="1187.50" y2="74.56" stroke="#000" stroke-width="2.88"/>
<line x1="1179.50" y1="91.52" x2="1187.50" y2="91.52" stroke="#000" stroke-width="2.88"/>
<line x1="1179.50" y1="108.48" x2="1187.50" y2="108.48" stroke="#000" stroke-width="2.88"/>
<line x1="1179.50" y1="125.44" x2="1187.50" y2="125.44" stroke="#000" stroke-width="2.88"/>
<line x1="1179.50" y1="142.40" x2="1187.50" y2="142.40" stroke="#000" stroke-width="2.88"/>
<line x1="1179.50" y1="159.36" x2="1187.50" y2="159.36" stroke="#000" stroke-width="2.88"/>
<line x1="1179.50" y1="176.32" x2="1187.50" y2="176.32" stroke="#000" stroke-width="2.88"/>
<line x1="1179.50" y1="193.28" x2="1187.50" y2="193.28" stroke="#000" stroke-width="2.88"/>
<line x1="1179.50" y1="210.24" x2="1187.50" y2="210.24" stroke="#000" stroke-width="2.88"/>
<line x1="1171.60" y1="227.20" x2="1187.50" y2="227.20" stroke="#000" stroke-width="3.20"/>
<line x1="1179.50" y1="244.16" x2="1187.50" y2="244.16" stroke="#000" stroke-width="2.88"/>
<line x1="1179.50" y1="261.12" x2="1187.50" y2="261.12" stroke="#000" stroke-width="2.88"/>
<line x1="1179.50" y1="278.08" x2="1187.50" y2="278.08" stroke="#000" stroke-width="2.88"/>
<line x1="1179.50" y1="295.04" x2="1187.50" y2="295.04" stroke="#000" stroke-width="2.88"/>
<line x1="1179.50" y1="312.00" x2="1187.50" y2="312.00" stroke="#000" stroke-width="2.88"/>
<line x1="1179.50" y1="328.96" x2="1187.50" y2="328.96" stroke="#000" stroke-width="2.88"/>
<line x1="1179.50" y1="345.92" x2="1187.50" y2="345.92" stroke="#000" stroke-width="2.88"/>
<line x1="1179.50" y1="362.88" x2="1187.50" y2="362.88" stroke="#000" stroke-width="2.88"/>
<line x1="1179.50" y1="379.84" x2="1187.50" y2="379.84" stroke="#000" stroke-width="2.88"/>
<line x1="1171.60" y1="396.80" x2="1187.50" y2="396.80" stroke="#000" stroke-width="3.20"/>
<text x="1115.50" y="62.40" font-size="21.20">100%</text>
<text x="1110.38" y="129.70" font-size="21.20">80.8%</text>
<text x="1126.75" y="235.40" font-size="21.20">50%</text>
<text x="1139.38" y="400.90" font-size="21.20">0%</text>
<text x="1100.00" y="329.25" font-size="21.12" transform="rotate(-90 1100.00 329.25)">Relative percentages</text>
<path d="M1203.80 58.20 L1206.30 58.20 L1206.30 56.20 L1275.60 56.20 L1278.60 58.70 L1278.60 62.50 L1203.80 62.50 Z" fill="#bfb0cf"/>
<path d="M1203.80 61.00 L1206.30 61.00 L1206.30 59.00 L1275.60 59.00 L1278.60 61.50 L1278.60 65.90 L1203.80 65.90 Z" fill="#8b72a9"/>
<path d="M1203.80 64.40 L1206.30 64.40 L1206.30 62.40 L1275.60 62.40 L1278.60 64.90 L1278.60 69.50 L1203.80 69.50 Z" fill="#b57553"/>
<path d="M1203.80 68.00 L1206.30 68.00 L1206.30 66.00 L1275.60 66.00 L1278.60 68.50 L1278.60 76.30 L1203.80 76.30 Z" fill="#2171b5"/>
<path d="M1203.80 74.80 L1206.30 74.80 L1206.30 72.80 L1275.60 72.80 L1278.60 75.30 L1278.60 80.60 L1203.80 80.60 Z" fill="#6fb6dd"/>
<path d="M1203.80 79.10 L1206.30 79.10 L1206.30 77.10 L1275.60 77.10 L1278.60 79.60 L1278.60 82.50 L1203.80 82.50 Z" fill="#b2e2f1"/>
<path d="M1203.80 81.00 L1206.30 81.00 L1206.30 79.00 L1275.60 79.00 L1278.60 81.50 L1278.60 89.70 L1203.80 89.70 Z" fill="#f2c3ab"/>
<path d="M1203.80 88.20 L1206.30 88.20 L1206.30 86.20 L1275.60 86.20 L1278.60 88.70 L1278.60 97.70 L1203.80 97.70 Z" fill="#00a5d9"/>
<path d="M1203.80 96.20 L1206.30 96.20 L1206.30 94.20 L1275.60 94.20 L1278.60 96.70 L1278.60 110.10 L1203.80 110.10 Z" fill="#5f9bce"/>
<path d="M1203.80 108.60 L1206.30 108.60 L1206.30 106.60 L1275.60 106.60 L1278.60 109.10 L1278.60 123.40 L1203.80 123.40 Z" fill="#76391a"/>
<path d="M1203.80 121.90 L1206.30 121.90 L1206.30 119.90 L1275.60 119.90 L1278.60 122.40 L1278.60 138.50 L1203.80 138.50 Z" fill="#92bbdf"/>
<path d="M1203.80 137.00 L1206.30 137.00 L1206.30 135.00 L1275.60 135.00 L1278.60 137.50 L1278.60 175.25 L1203.80 175.25 Z" fill="#527c50"/>
<path d="M1203.80 173.75 L1206.30 173.75 L1206.30 171.75 L1275.60 171.75 L1278.60 174.25 L1278.60 215.40 L1203.80 215.40 Z" fill="#a48bd4"/>
<path d="M1203.80 213.90 L1206.30 213.90 L1206.30 211.90 L1275.60 211.90 L1278.60 214.40 L1278.60 267.25 L1203.80 267.25 Z" fill="#82b963"/>
<path d="M1203.80 265.75 L1206.30 265.75 L1206.30 263.75 L1275.60 263.75 L1278.60 266.25 L1278.60 396.80 Q1278.60 400.00 1275.40 400.00 L1207.00 400.00 Q1203.80 400.00 1203.80 396.80 Z" fill="#775399"/>
<line x1="1172.50" y1="120.20" x2="1190.70" y2="120.20" stroke="#e60012" stroke-width="2.50"/>
<polygon points="1186.70,111.30 1209.00,120.20 1186.70,129.10 1190.90,120.20" fill="#e60012"/>
<rect x="1294.50" y="57.50" width="26.60" height="14.00" rx="3.2" ry="3.6" fill="#bcdcae"/>
<text x="1332.11" y="70.40" font-size="18.74" fill="#111">PE(34:0)</text>
<rect x="1294.50" y="76.84" width="26.60" height="14.00" rx="3.2" ry="3.6" fill="#54699e"/>
<text x="1332.11" y="89.74" font-size="18.74" fill="#111">PE(38:3)</text>
<rect x="1294.50" y="96.18" width="26.60" height="14.00" rx="3.2" ry="3.6" fill="#dc9d82"/>
<text x="1332.11" y="109.08" font-size="17.94" fill="#111" textLength="115.37" lengthAdjust="spacingAndGlyphs">PE(18:1_22:5)</text>
<rect x="1294.50" y="115.52" width="26.60" height="14.00" rx="3.2" ry="3.6" fill="#bfb0cf"/>
<text x="1332.11" y="128.42" font-size="17.94" fill="#111" textLength="115.37" lengthAdjust="spacingAndGlyphs">PE(16:0_20:4)</text>
<rect x="1294.50" y="134.86" width="26.60" height="14.00" rx="3.2" ry="3.6" fill="#8b72a9"/>
<text x="1332.11" y="147.76" font-size="17.94" fill="#111" textLength="115.37" lengthAdjust="spacingAndGlyphs">PE(16:0_20:5)</text>
<rect x="1294.50" y="154.20" width="26.60" height="14.00" rx="3.2" ry="3.6" fill="#b57553"/>
<text x="1332.11" y="167.10" font-size="17.94" fill="#111" textLength="115.37" lengthAdjust="spacingAndGlyphs">PE(20:1_20:4)</text>
<rect x="1294.50" y="173.54" width="26.60" height="14.00" rx="3.2" ry="3.6" fill="#2171b5"/>
<text x="1332.11" y="186.44" font-size="17.94" fill="#111" textLength="115.37" lengthAdjust="spacingAndGlyphs">PE(18:0_20:5)</text>
<rect x="1294.50" y="192.88" width="26.60" height="14.00" rx="3.2" ry="3.6" fill="#c0d6eb"/>
<text x="1332.11" y="205.78" font-size="17.94" fill="#111" textLength="115.37" lengthAdjust="spacingAndGlyphs">PE(16:0_22:6)</text>
<rect x="1293.00" y="212.22" width="26.60" height="14.00" rx="3.2" ry="3.6" fill="#b2e2f1"/>
<text x="1330.61" y="225.12" font-size="17.94" fill="#111" textLength="115.37" lengthAdjust="spacingAndGlyphs">PE(18:1_20:1)</text>
<rect x="1294.50" y="231.56" width="26.60" height="14.00" rx="3.2" ry="3.6" fill="#f2c3ab"/>
<text x="1332.11" y="244.46" font-size="17.94" fill="#111" textLength="115.37" lengthAdjust="spacingAndGlyphs">PE(18:0_22:6)</text>
<rect x="1294.50" y="250.90" width="26.60" height="14.00" rx="3.2" ry="3.6" fill="#00a5d9"/>
<text x="1332.11" y="263.80" font-size="17.94" fill="#111" textLength="115.37" lengthAdjust="spacingAndGlyphs">PE(18:0_20:4)</text>
<rect x="1294.50" y="270.24" width="26.60" height="14.00" rx="3.2" ry="3.6" fill="#5f9bce"/>
<text x="1332.11" y="283.14" font-size="17.94" fill="#111" textLength="115.37" lengthAdjust="spacingAndGlyphs">PE(18:1_20:4)</text>
<rect x="1294.50" y="289.58" width="26.60" height="14.00" rx="3.2" ry="3.6" fill="#76391a"/>
<text x="1332.11" y="302.48" font-size="17.94" fill="#111" textLength="115.37" lengthAdjust="spacingAndGlyphs">PE(18:1_22:6)</text>
<rect x="1294.50" y="308.92" width="26.60" height="14.00" rx="3.2" ry="3.6" fill="#92bbdf"/>
<text x="1332.11" y="321.82" font-size="17.94" fill="#111" textLength="115.37" lengthAdjust="spacingAndGlyphs">PE(18:1_20:5)</text>
<rect x="1294.50" y="328.26" width="26.60" height="14.00" rx="3.2" ry="3.6" fill="#527c50"/>
<text x="1332.11" y="341.16" font-size="17.94" fill="#111" textLength="115.37" lengthAdjust="spacingAndGlyphs">PE(16:1_18:1)</text>
<rect x="1293.00" y="347.60" width="26.60" height="14.00" rx="3.2" ry="3.6" fill="#a48bd4"/>
<text x="1330.61" y="360.50" font-size="17.94" fill="#111" textLength="115.37" lengthAdjust="spacingAndGlyphs">PE(18:0_18:1)</text>
<rect x="1294.50" y="366.94" width="26.60" height="14.00" rx="3.2" ry="3.6" fill="#82b963"/>
<text x="1332.11" y="379.84" font-size="17.94" fill="#111" textLength="115.37" lengthAdjust="spacingAndGlyphs">PE(16:0_18:1)</text>
<rect x="1294.50" y="386.28" width="26.60" height="14.00" rx="3.2" ry="3.6" fill="#775399"/>
<text x="1332.11" y="399.18" font-size="17.94" fill="#111" textLength="115.37" lengthAdjust="spacingAndGlyphs">PE(18:1_18:1)</text>
</g>
<g id="panel-d">
<text x="-1.05" y="466.90" font-size="31.30">d</text>
<text x="293.01" y="475.40" font-size="24.67" textLength="227.14" lengthAdjust="spacingAndGlyphs">Pulse-chase labeling</text>
<path d="M112.90 497.70 v5.6 a20.70 11.60 0 0 0 41.40 0 v-5.6 z" fill="#fbdde6" stroke="#d9c3cc" stroke-width="0.7"/>
<ellipse cx="133.60" cy="497.70" rx="20.70" ry="11.60" fill="#eef1f1" stroke="#bfc6c6" stroke-width="1"/>
<path d="M113.90 498.90 a19.70 10.40 0 0 0 39.40 0 a19.70 7.10 0 0 0 -39.40 0 z" fill="#f9d3db"/>
<path d="M125.40 500.89 L119.47 500.65 L120.95 503.05 Z" fill="#e6555f" opacity="0.8"/>
<path d="M119.05 498.63 L124.26 499.58 L122.96 501.98 Z" fill="#e6555f" opacity="0.8"/>
<path d="M121.42 495.24 L126.82 495.13 L125.47 497.53 Z" fill="#e6555f" opacity="0.8"/>
<path d="M146.78 501.80 L143.97 503.12 L144.67 505.52 Z" fill="#e6555f" opacity="0.8"/>
<path d="M150.25 497.47 L147.22 499.83 L147.98 502.23 Z" fill="#e6555f" opacity="0.8"/>
<path d="M135.41 499.41 L134.96 501.28 L135.07 503.68 Z" fill="#e6555f" opacity="0.8"/>
<path d="M133.45 502.75 L139.52 501.99 L138.00 504.39 Z" fill="#e6555f" opacity="0.8"/>
<path d="M120.53 500.07 L120.13 502.92 L120.23 505.32 Z" fill="#e6555f" opacity="0.8"/>
<path d="M120.55 498.25 L121.29 500.47 L121.11 502.87 Z" fill="#e6555f" opacity="0.8"/>
<path d="M152.04 498.83 L146.09 499.68 L147.58 502.08 Z" fill="#e6555f" opacity="0.8"/>
<path d="M129.00 501.62 L132.08 502.89 L131.31 505.29 Z" fill="#e6555f" opacity="0.8"/>
<path d="M137.22 494.99 L132.01 495.53 L133.31 497.93 Z" fill="#e6555f" opacity="0.8"/>
<path d="M144.71 498.36 L150.09 497.26 L148.75 499.66 Z" fill="#e6555f" opacity="0.8"/>
<path d="M145.63 497.42 L139.73 496.54 L141.21 498.94 Z" fill="#e6555f" opacity="0.8"/>
<path d="M146.82 501.09 L142.56 502.13 L143.62 504.53 Z" fill="#e6555f" opacity="0.8"/>
<path d="M144.82 501.63 L137.94 500.99 L139.66 503.39 Z" fill="#e6555f" opacity="0.8"/>
<path d="M137.09 501.64 L141.81 501.48 L140.63 503.88 Z" fill="#e6555f" opacity="0.8"/>
<path d="M136.15 495.42 L135.03 497.89 L135.31 500.29 Z" fill="#e6555f" opacity="0.8"/>
<path d="M135.42 504.23 L141.47 504.71 L139.96 507.11 Z" fill="#e6555f" opacity="0.8"/>
<path d="M139.00 501.68 L143.36 502.65 L142.27 505.05 Z" fill="#e6555f" opacity="0.8"/>
<path d="M145.20 497.07 L149.40 499.54 L148.35 501.94 Z" fill="#e6555f" opacity="0.8"/>
<path d="M138.97 502.98 L133.06 503.63 L134.53 506.03 Z" fill="#e6555f" opacity="0.8"/>
<path d="M143.89 502.62 L148.22 503.58 L147.14 505.98 Z" fill="#e6555f" opacity="0.8"/>
<path d="M133.39 494.99 L136.38 496.30 L135.64 498.70 Z" fill="#e6555f" opacity="0.8"/>
<path d="M141.31 501.19 L146.00 502.78 L144.83 505.18 Z" fill="#e6555f" opacity="0.8"/>
<path d="M129.34 502.81 L123.24 502.18 L124.76 504.58 Z" fill="#e6555f" opacity="0.8"/>
<path d="M118.51 496.35 L122.90 496.96 L121.80 499.36 Z" fill="#e6555f" opacity="0.8"/>
<path d="M143.50 495.61 L147.27 496.77 L146.33 499.17 Z" fill="#e6555f" opacity="0.8"/>
<path d="M129.56 492.41 L135.64 493.90 L134.12 496.30 Z" fill="#e6555f" opacity="0.8"/>
<path d="M141.93 495.04 L143.17 496.91 L142.86 499.31 Z" fill="#e6555f" opacity="0.8"/>
<text x="164.75" y="510.90" font-size="21.58" fill="#c23431">[U-<tspan font-size="12.95" dy="-7.34">13</tspan><tspan dy="7.34">C]-serine</tspan></text>
<line x1="134.30" y1="519.50" x2="134.30" y2="532.70" stroke="#2f7cc4" stroke-width="1.50"/>
<polygon points="129.00,531.70 139.60,531.70 134.30,542.20" fill="#2f7cc4"/>
<line x1="179.00" y1="517.50" x2="179.00" y2="530.70" stroke="#c43a34" stroke-width="1.50"/>
<polygon points="173.70,529.70 184.30,529.70 179.00,540.20" fill="#c43a34"/>
<line x1="179.00" y1="550.30" x2="557.00" y2="550.30" stroke="#868a8b" stroke-width="2.30"/>
<polygon points="555.50,543.30 555.50,557.30 568.80,550.30" fill="#868a8b"/>
<line x1="132.00" y1="550.30" x2="179.00" y2="550.30" stroke="#3561ad" stroke-width="2.70"/>
<circle cx="132.00" cy="550.30" r="3.10" fill="#3561ad"/>
<circle cx="179.10" cy="550.30" r="7.10" fill="#c43a34"/>
<circle cx="224.25" cy="550.30" r="7.00" fill="#2f7cc4"/>
<circle cx="263.25" cy="550.30" r="7.00" fill="#2f7cc4"/>
<circle cx="302.50" cy="550.30" r="7.00" fill="#2f7cc4"/>
<circle cx="341.75" cy="550.30" r="7.00" fill="#2f7cc4"/>
<circle cx="381.10" cy="550.30" r="7.00" fill="#2f7cc4"/>
<circle cx="459.75" cy="550.30" r="7.00" fill="#2f7cc4"/>
<circle cx="538.00" cy="550.30" r="7.00" fill="#2f7cc4"/>
<text x="224.20" y="577.90" font-size="21.30" text-anchor="middle" fill="#1a1a1a">0</text>
<text x="263.20" y="577.90" font-size="21.30" text-anchor="middle" fill="#1a1a1a">15</text>
<text x="302.50" y="577.90" font-size="21.30" text-anchor="middle" fill="#1a1a1a">30</text>
<text x="341.70" y="577.90" font-size="21.30" text-anchor="middle" fill="#1a1a1a">45</text>
<text x="382.00" y="577.90" font-size="21.30" text-anchor="middle" fill="#1a1a1a">60</text>
<text x="460.50" y="577.90" font-size="21.30" text-anchor="middle" fill="#1a1a1a">90</text>
<text x="521.96" y="577.90" font-size="21.30" fill="#1a1a1a" textLength="88.78" lengthAdjust="spacingAndGlyphs">120 mins</text>
<line x1="265.00" y1="601.00" x2="265.00" y2="594.00" stroke="#2f7cc4" stroke-width="1.50"/>
<polygon points="259.70,595.00 270.30,595.00 265.00,584.50" fill="#2f7cc4"/>
<text x="234.75" y="616.70" font-size="21.61" fill="#2f7cc4" textLength="62.41" lengthAdjust="spacingAndGlyphs">Chase</text>
<text x="127.76" y="654.90" font-size="22.63" fill="#111" textLength="217.94" lengthAdjust="spacingAndGlyphs">PL-<tspan font-size="12.00" dy="-7.70">13</tspan><tspan dy="7.70">C-PE(18:0_20:4)</tspan></text>
<line x1="117.50" y1="669.50" x2="117.50" y2="825.77" stroke="#000" stroke-width="2.75"/>
<line x1="116.12" y1="824.40" x2="338.60" y2="824.40" stroke="#000" stroke-width="2.75"/>
<line x1="108.75" y1="671.00" x2="117.50" y2="671.00" stroke="#000" stroke-width="2.00"/>
<line x1="108.75" y1="718.75" x2="117.50" y2="718.75" stroke="#000" stroke-width="2.00"/>
<line x1="108.75" y1="766.60" x2="117.50" y2="766.60" stroke="#000" stroke-width="2.00"/>
<line x1="108.75" y1="814.50" x2="117.50" y2="814.50" stroke="#000" stroke-width="2.00"/>
<line x1="117.50" y1="824.40" x2="117.50" y2="827.00" stroke="#000" stroke-width="2.00"/>
<line x1="172.50" y1="824.40" x2="172.50" y2="827.00" stroke="#000" stroke-width="2.00"/>
<line x1="227.50" y1="824.40" x2="227.50" y2="827.00" stroke="#000" stroke-width="2.00"/>
<line x1="282.50" y1="824.40" x2="282.50" y2="827.00" stroke="#000" stroke-width="2.00"/>
<line x1="337.50" y1="824.40" x2="337.50" y2="827.00" stroke="#000" stroke-width="2.00"/>
<text x="91.07" y="677.90" font-size="21.30" fill="#111">3</text>
<text x="91.07" y="725.70" font-size="21.30" fill="#111">2</text>
<text x="90.82" y="773.60" font-size="21.30" fill="#111">1</text>
<text x="91.07" y="821.60" font-size="21.30" fill="#111">0</text>
<text x="109.12" y="844.90" font-size="21.30" fill="#111">0</text>
<text x="159.25" y="844.90" font-size="21.30" fill="#111">30</text>
<text x="214.12" y="844.90" font-size="21.30" fill="#111">60</text>
<text x="269.12" y="844.90" font-size="21.30" fill="#111">90</text>
<text x="319.38" y="844.90" font-size="21.30" fill="#111">120</text>
<text x="144.00" y="863.40" font-size="20.30" fill="#111">Chase time (mins)</text>
<text x="72.50" y="813.00" font-size="21.29" fill="#111" transform="rotate(-90 72.50 813.00)">Rel. int. (×10<tspan font-size="13.20" dy="-7.24">5</tspan><tspan dy="7.24">)</tspan></text>
<polyline points="144.50,815.00 172.50,758.75 200.00,728.75 227.50,703.25 282.50,712.00 337.50,730.50" fill="none" stroke="#000" stroke-width="2.2"/>
<line x1="144.50" y1="810.00" x2="144.50" y2="820.00" stroke="#000" stroke-width="1.80"/>
<line x1="140.00" y1="810.00" x2="149.00" y2="810.00" stroke="#000" stroke-width="1.80"/>
<line x1="140.00" y1="820.00" x2="149.00" y2="820.00" stroke="#000" stroke-width="1.80"/>
<circle cx="144.50" cy="815.00" r="4.70" fill="#000"/>
<line x1="172.50" y1="740.00" x2="172.50" y2="776.25" stroke="#000" stroke-width="1.80"/>
<line x1="168.00" y1="740.00" x2="177.00" y2="740.00" stroke="#000" stroke-width="1.80"/>
<line x1="168.00" y1="776.25" x2="177.00" y2="776.25" stroke="#000" stroke-width="1.80"/>
<circle cx="172.50" cy="758.75" r="4.70" fill="#000"/>
<line x1="200.00" y1="713.00" x2="200.00" y2="744.25" stroke="#000" stroke-width="1.80"/>
<line x1="195.50" y1="713.00" x2="204.50" y2="713.00" stroke="#000" stroke-width="1.80"/>
<line x1="195.50" y1="744.25" x2="204.50" y2="744.25" stroke="#000" stroke-width="1.80"/>
<circle cx="200.00" cy="728.75" r="4.70" fill="#000"/>
<line x1="227.50" y1="683.25" x2="227.50" y2="723.25" stroke="#000" stroke-width="1.80"/>
<line x1="223.00" y1="683.25" x2="232.00" y2="683.25" stroke="#000" stroke-width="1.80"/>
<line x1="223.00" y1="723.25" x2="232.00" y2="723.25" stroke="#000" stroke-width="1.80"/>
<circle cx="227.50" cy="703.25" r="4.70" fill="#ff0000"/>
<line x1="282.50" y1="688.00" x2="282.50" y2="735.75" stroke="#000" stroke-width="1.80"/>
<line x1="278.00" y1="688.00" x2="287.00" y2="688.00" stroke="#000" stroke-width="1.80"/>
<line x1="278.00" y1="735.75" x2="287.00" y2="735.75" stroke="#000" stroke-width="1.80"/>
<circle cx="282.50" cy="712.00" r="4.70" fill="#000"/>
<line x1="337.50" y1="703.00" x2="337.50" y2="757.50" stroke="#000" stroke-width="1.20"/>
<line x1="333.00" y1="703.00" x2="342.00" y2="703.00" stroke="#000" stroke-width="1.20"/>
<line x1="333.00" y1="757.50" x2="342.00" y2="757.50" stroke="#000" stroke-width="1.20"/>
<circle cx="337.50" cy="730.50" r="4.70" fill="#000"/>
<text x="192.00" y="794.20" font-size="21.31" fill="#111" textLength="161.62" lengthAdjust="spacingAndGlyphs">ΔInt/Δt = 2.3×10<tspan font-size="13.21" dy="-7.25">5</tspan></text>
<text x="457.51" y="654.90" font-size="22.63" fill="#111" textLength="217.94" lengthAdjust="spacingAndGlyphs">PL-<tspan font-size="12.00" dy="-7.70">13</tspan><tspan dy="7.70">C-PE(18:1_18:1)</tspan></text>
<line x1="448.75" y1="668.50" x2="448.75" y2="825.77" stroke="#000" stroke-width="2.75"/>
<line x1="447.38" y1="824.40" x2="669.80" y2="824.40" stroke="#000" stroke-width="2.75"/>
<line x1="439.25" y1="670.00" x2="448.75" y2="670.00" stroke="#000" stroke-width="2.00"/>
<line x1="439.25" y1="717.60" x2="448.75" y2="717.60" stroke="#000" stroke-width="2.00"/>
<line x1="439.25" y1="765.80" x2="448.75" y2="765.80" stroke="#000" stroke-width="2.00"/>
<line x1="439.25" y1="814.25" x2="448.75" y2="814.25" stroke="#000" stroke-width="2.00"/>
<line x1="448.75" y1="824.40" x2="448.75" y2="827.00" stroke="#000" stroke-width="2.00"/>
<line x1="503.50" y1="824.40" x2="503.50" y2="827.00" stroke="#000" stroke-width="2.00"/>
<line x1="558.50" y1="824.40" x2="558.50" y2="827.00" stroke="#000" stroke-width="2.00"/>
<line x1="613.50" y1="824.40" x2="613.50" y2="827.00" stroke="#000" stroke-width="2.00"/>
<line x1="668.75" y1="824.40" x2="668.75" y2="827.00" stroke="#000" stroke-width="2.00"/>
<text x="417.38" y="677.20" font-size="21.30" fill="#111">3</text>
<text x="417.38" y="724.80" font-size="21.30" fill="#111">2</text>
<text x="417.12" y="773.00" font-size="21.30" fill="#111">1</text>
<text x="417.38" y="821.40" font-size="21.30" fill="#111">0</text>
<text x="441.50" y="844.90" font-size="21.30" fill="#111">0</text>
<text x="492.50" y="844.90" font-size="21.30" fill="#111">30</text>
<text x="546.12" y="844.90" font-size="21.30" fill="#111">60</text>
<text x="601.12" y="844.90" font-size="21.30" fill="#111">90</text>
<text x="651.75" y="844.90" font-size="21.30" fill="#111">120</text>
<text x="477.00" y="863.40" font-size="20.30" fill="#111">Chase time (mins)</text>
<polyline points="476.00,814.25 503.50,797.50 531.25,793.00 558.50,788.75 613.50,788.00 668.75,791.75" fill="none" stroke="#000" stroke-width="2.2"/>
<circle cx="476.00" cy="814.25" r="4.70" fill="#000"/>
<line x1="503.50" y1="791.25" x2="503.50" y2="803.00" stroke="#000" stroke-width="1.70"/>
<line x1="499.00" y1="791.25" x2="508.00" y2="791.25" stroke="#000" stroke-width="1.70"/>
<line x1="499.00" y1="803.00" x2="508.00" y2="803.00" stroke="#000" stroke-width="1.70"/>
<circle cx="503.50" cy="797.50" r="4.70" fill="#000"/>
<line x1="531.25" y1="786.75" x2="531.25" y2="799.25" stroke="#000" stroke-width="1.70"/>
<line x1="526.75" y1="786.75" x2="535.75" y2="786.75" stroke="#000" stroke-width="1.70"/>
<line x1="526.75" y1="799.25" x2="535.75" y2="799.25" stroke="#000" stroke-width="1.70"/>
<circle cx="531.25" cy="793.00" r="4.70" fill="#000"/>
<line x1="558.50" y1="783.25" x2="558.50" y2="794.50" stroke="#000" stroke-width="1.70"/>
<line x1="554.00" y1="783.25" x2="563.00" y2="783.25" stroke="#000" stroke-width="1.70"/>
<line x1="554.00" y1="794.50" x2="563.00" y2="794.50" stroke="#000" stroke-width="1.70"/>
<circle cx="558.50" cy="788.75" r="4.70" fill="#ff0000"/>
<line x1="613.50" y1="780.50" x2="613.50" y2="795.50" stroke="#000" stroke-width="1.70"/>
<line x1="609.00" y1="780.50" x2="618.00" y2="780.50" stroke="#000" stroke-width="1.70"/>
<line x1="609.00" y1="795.50" x2="618.00" y2="795.50" stroke="#000" stroke-width="1.70"/>
<circle cx="613.50" cy="788.00" r="4.70" fill="#000"/>
<line x1="668.75" y1="780.50" x2="668.75" y2="801.75" stroke="#000" stroke-width="1.70"/>
<line x1="664.25" y1="780.50" x2="673.25" y2="780.50" stroke="#000" stroke-width="1.70"/>
<line x1="664.25" y1="801.75" x2="673.25" y2="801.75" stroke="#000" stroke-width="1.70"/>
<circle cx="668.75" cy="791.75" r="4.70" fill="#000"/>
<text x="465.00" y="759.20" font-size="21.21" fill="#111">ΔInt/Δt = 5.3×10<tspan font-size="13.15" dy="-7.21">4</tspan></text>
</g>
<g id="panel-e">
<text x="717.75" y="466.40" font-size="31.30">e</text>
<text x="991.00" y="477.90" font-size="24.56">Continuous labeling</text>
<path d="M829.90 500.70 v5.6 a20.70 11.60 0 0 0 41.40 0 v-5.6 z" fill="#fbdde6" stroke="#d9c3cc" stroke-width="0.7"/>
<ellipse cx="850.60" cy="500.70" rx="20.70" ry="11.60" fill="#eef1f1" stroke="#bfc6c6" stroke-width="1"/>
<path d="M830.90 501.90 a19.70 10.40 0 0 0 39.40 0 a19.70 7.10 0 0 0 -39.40 0 z" fill="#f9d3db"/>
<path d="M862.89 503.03 L867.85 504.70 L866.61 507.10 Z" fill="#e6555f" opacity="0.8"/>
<path d="M850.82 507.11 L849.14 509.23 L849.56 511.63 Z" fill="#e6555f" opacity="0.8"/>
<path d="M853.91 507.42 L859.22 507.02 L857.89 509.42 Z" fill="#e6555f" opacity="0.8"/>
<path d="M838.23 499.17 L836.27 501.21 L836.76 503.61 Z" fill="#e6555f" opacity="0.8"/>
<path d="M854.14 501.32 L859.68 500.40 L858.30 502.80 Z" fill="#e6555f" opacity="0.8"/>
<path d="M844.01 502.58 L848.97 503.32 L847.73 505.72 Z" fill="#e6555f" opacity="0.8"/>
<path d="M843.69 499.83 L846.75 502.70 L845.99 505.10 Z" fill="#e6555f" opacity="0.8"/>
<path d="M864.95 500.67 L861.31 502.76 L862.22 505.16 Z" fill="#e6555f" opacity="0.8"/>
<path d="M849.23 503.93 L856.57 503.08 L854.73 505.48 Z" fill="#e6555f" opacity="0.8"/>
<path d="M842.70 496.78 L849.27 495.95 L847.63 498.35 Z" fill="#e6555f" opacity="0.8"/>
<path d="M835.34 501.59 L839.43 504.33 L838.41 506.73 Z" fill="#e6555f" opacity="0.8"/>
<path d="M863.36 503.46 L858.40 505.59 L859.64 507.99 Z" fill="#e6555f" opacity="0.8"/>
<path d="M852.47 496.19 L846.61 497.76 L848.08 500.16 Z" fill="#e6555f" opacity="0.8"/>
<path d="M846.35 506.50 L839.46 506.73 L841.18 509.13 Z" fill="#e6555f" opacity="0.8"/>
<path d="M841.52 504.94 L835.70 505.44 L837.16 507.84 Z" fill="#e6555f" opacity="0.8"/>
<path d="M844.55 498.17 L842.88 500.84 L843.30 503.24 Z" fill="#e6555f" opacity="0.8"/>
<path d="M865.15 505.34 L857.88 504.33 L859.70 506.73 Z" fill="#e6555f" opacity="0.8"/>
<path d="M851.42 497.46 L847.10 499.21 L848.18 501.61 Z" fill="#e6555f" opacity="0.8"/>
<path d="M834.03 504.50 L840.69 504.48 L839.03 506.88 Z" fill="#e6555f" opacity="0.8"/>
<path d="M862.32 502.20 L862.65 504.36 L862.57 506.76 Z" fill="#e6555f" opacity="0.8"/>
<path d="M848.38 496.51 L845.78 499.55 L846.43 501.95 Z" fill="#e6555f" opacity="0.8"/>
<path d="M848.54 502.40 L852.46 504.56 L851.48 506.96 Z" fill="#e6555f" opacity="0.8"/>
<path d="M855.74 504.96 L849.38 505.02 L850.97 507.42 Z" fill="#e6555f" opacity="0.8"/>
<path d="M835.19 503.35 L838.63 505.67 L837.77 508.07 Z" fill="#e6555f" opacity="0.8"/>
<path d="M856.89 505.67 L850.86 507.10 L852.37 509.50 Z" fill="#e6555f" opacity="0.8"/>
<path d="M858.46 498.50 L856.99 500.69 L857.36 503.09 Z" fill="#e6555f" opacity="0.8"/>
<path d="M860.96 505.28 L854.71 506.29 L856.27 508.69 Z" fill="#e6555f" opacity="0.8"/>
<path d="M845.25 495.63 L848.65 496.95 L847.80 499.35 Z" fill="#e6555f" opacity="0.8"/>
<path d="M840.33 502.84 L844.99 503.96 L843.82 506.36 Z" fill="#e6555f" opacity="0.8"/>
<path d="M840.90 497.88 L844.81 500.37 L843.83 502.77 Z" fill="#e6555f" opacity="0.8"/>
<text x="876.50" y="512.90" font-size="21.58" fill="#c23431">[U-<tspan font-size="12.95" dy="-7.34">13</tspan><tspan dy="7.34">C]-serine</tspan></text>
<line x1="851.00" y1="520.00" x2="851.00" y2="533.70" stroke="#2f7cc4" stroke-width="1.50"/>
<polygon points="845.70,532.70 856.30,532.70 851.00,543.20" fill="#2f7cc4"/>
<line x1="925.25" y1="518.00" x2="925.25" y2="531.80" stroke="#c43a34" stroke-width="1.50"/>
<polygon points="919.95,530.80 930.55,530.80 925.25,541.30" fill="#c43a34"/>
<line x1="925.00" y1="551.30" x2="1257.00" y2="551.30" stroke="#868a8b" stroke-width="2.30"/>
<polygon points="1255.00,544.30 1255.00,558.30 1268.80,551.30" fill="#868a8b"/>
<line x1="849.75" y1="551.30" x2="925.00" y2="551.30" stroke="#3561ad" stroke-width="2.70"/>
<circle cx="849.75" cy="551.30" r="3.10" fill="#3561ad"/>
<circle cx="925.25" cy="551.30" r="7.40" fill="#c43a34"/>
<circle cx="964.00" cy="551.30" r="7.40" fill="#c43a34"/>
<circle cx="1001.50" cy="551.30" r="7.40" fill="#c43a34"/>
<circle cx="1081.25" cy="551.30" r="7.40" fill="#c43a34"/>
<circle cx="1158.75" cy="551.30" r="7.40" fill="#c43a34"/>
<circle cx="1237.00" cy="551.30" r="7.40" fill="#c43a34"/>
<text x="923.50" y="579.20" font-size="21.30" text-anchor="middle" fill="#1a1a1a">0</text>
<text x="964.00" y="579.20" font-size="21.30" text-anchor="middle" fill="#1a1a1a">6</text>
<text x="1002.00" y="579.20" font-size="21.30" text-anchor="middle" fill="#1a1a1a">12</text>
<text x="1079.50" y="579.20" font-size="21.30" text-anchor="middle" fill="#1a1a1a">24</text>
<text x="1158.00" y="579.20" font-size="21.30" text-anchor="middle" fill="#1a1a1a">48</text>
<text x="1225.22" y="579.20" font-size="21.30" fill="#1a1a1a" textLength="42.41" lengthAdjust="spacingAndGlyphs">72 h</text>
<text x="820.76" y="651.15" font-size="22.13" fill="#111" textLength="213.20" lengthAdjust="spacingAndGlyphs">PL-<tspan font-size="11.73" dy="-7.53">13</tspan><tspan dy="7.53">C-PE(18:0_20:4)</tspan></text>
<line x1="814.60" y1="661.00" x2="814.60" y2="828.60" stroke="#000" stroke-width="2.80"/>
<line x1="813.20" y1="827.20" x2="1044.60" y2="827.20" stroke="#000" stroke-width="2.80"/>
<line x1="805.50" y1="662.00" x2="814.60" y2="662.00" stroke="#231815" stroke-width="2.00"/>
<line x1="805.50" y1="740.75" x2="814.60" y2="740.75" stroke="#231815" stroke-width="2.00"/>
<line x1="805.50" y1="819.25" x2="814.60" y2="819.25" stroke="#231815" stroke-width="2.00"/>
<line x1="825.50" y1="827.20" x2="825.50" y2="829.80" stroke="#000" stroke-width="1.60"/>
<line x1="861.75" y1="827.20" x2="861.75" y2="829.80" stroke="#000" stroke-width="1.60"/>
<line x1="898.00" y1="827.20" x2="898.00" y2="829.80" stroke="#000" stroke-width="1.60"/>
<line x1="934.25" y1="827.20" x2="934.25" y2="829.80" stroke="#000" stroke-width="1.60"/>
<line x1="970.50" y1="827.20" x2="970.50" y2="829.80" stroke="#000" stroke-width="1.60"/>
<line x1="1006.75" y1="827.20" x2="1006.75" y2="829.80" stroke="#000" stroke-width="1.60"/>
<line x1="1043.00" y1="827.20" x2="1043.00" y2="829.80" stroke="#000" stroke-width="1.60"/>
<text x="769.97" y="669.90" font-size="21.20" fill="#231815">1.0</text>
<text x="770.35" y="748.40" font-size="21.20" fill="#231815">0.5</text>
<text x="784.83" y="826.65" font-size="21.20" fill="#231815">0</text>
<text x="825.50" y="851.15" font-size="21.30" text-anchor="middle" fill="#231815">0</text>
<text x="861.75" y="851.15" font-size="21.30" text-anchor="middle" fill="#231815">12</text>
<text x="898.00" y="851.15" font-size="21.30" text-anchor="middle" fill="#231815">24</text>
<text x="934.25" y="851.15" font-size="21.30" text-anchor="middle" fill="#231815">36</text>
<text x="970.50" y="851.15" font-size="21.30" text-anchor="middle" fill="#231815">48</text>
<text x="1006.75" y="851.15" font-size="21.30" text-anchor="middle" fill="#231815">60</text>
<text x="1043.00" y="851.15" font-size="21.30" text-anchor="middle" fill="#231815">72</text>
<text x="848.99" y="875.40" font-size="21.61" fill="#111" textLength="160.90" lengthAdjust="spacingAndGlyphs">Labeling time (h)</text>
<polyline points="825.50,819.25 827.01,816.57 828.52,813.96 830.03,811.41 831.54,808.93 833.05,806.50 834.56,804.14 836.07,801.84 837.58,799.59 839.09,797.40 840.60,795.26 842.11,793.17 843.62,791.14 845.14,789.15 846.65,787.22 848.16,785.33 849.67,783.49 851.18,781.70 852.69,779.94 854.20,778.24 855.71,776.57 857.22,774.95 858.73,773.36 860.24,771.82 861.75,770.31 863.26,768.84 864.77,767.41 866.28,766.01 867.79,764.65 869.30,763.32 870.81,762.02 872.32,760.75 873.83,759.52 875.34,758.32 876.85,757.14 878.36,756.00 879.87,754.88 881.38,753.79 882.90,752.73 884.41,751.70 885.92,750.69 887.43,749.70 888.94,748.74 890.45,747.80 891.96,746.89 893.47,746.00 894.98,745.13 896.49,744.28 898.00,743.45 899.51,742.65 901.02,741.86 902.53,741.09 904.04,740.34 905.55,739.61 907.06,738.90 908.57,738.21 910.08,737.53 911.59,736.87 913.10,736.23 914.61,735.60 916.12,734.98 917.63,734.39 919.14,733.80 920.66,733.24 922.17,732.68 923.68,732.14 925.19,731.61 926.70,731.10 928.21,730.60 929.72,730.11 931.23,729.63 932.74,729.17 934.25,728.71 935.76,728.27 937.27,727.84 938.78,727.42 940.29,727.01 941.80,726.60 943.31,726.21 944.82,725.83 946.33,725.46 947.84,725.10 949.35,724.75 950.86,724.40 952.37,724.06 953.88,723.74 955.39,723.42 956.90,723.10 958.42,722.80 959.93,722.50 961.44,722.21 962.95,721.93 964.46,721.66 965.97,721.39 967.48,721.13 968.99,720.87 970.50,720.62 972.01,720.38 973.52,720.14 975.03,719.91 976.54,719.69 978.05,719.47 979.56,719.25 981.07,719.04 982.58,718.84 984.09,718.64 985.60,718.45 987.11,718.26 988.62,718.07 990.13,717.89 991.64,717.72 993.15,717.54 994.66,717.38 996.18,717.22 997.69,717.06 999.20,716.90 1000.71,716.75 1002.22,716.60 1003.73,716.46 1005.24,716.32 1006.75,716.18 1008.26,716.05 1009.77,715.92 1011.28,715.79 1012.79,715.67 1014.30,715.55 1015.81,715.43 1017.32,715.32 1018.83,715.20 1020.34,715.09 1021.85,714.99 1023.36,714.88 1024.87,714.78 1026.38,714.68 1027.89,714.59 1029.40,714.49 1030.91,714.40 1032.42,714.31 1033.94,714.23 1035.45,714.14 1036.96,714.06 1038.47,713.98 1039.98,713.90 1041.49,713.82 1043.00,713.75" fill="none" stroke="#000" stroke-width="3.3" stroke-linejoin="round"/>
<circle cx="825.50" cy="819.25" r="4.00" fill="#ff0000"/>
<circle cx="843.75" cy="792.50" r="4.00" fill="#ff0000"/>
<circle cx="862.00" cy="766.75" r="4.00" fill="#ff0000"/>
<circle cx="898.00" cy="738.75" r="4.00" fill="#ff0000"/>
<circle cx="970.50" cy="726.75" r="4.00" fill="#ff0000"/>
<circle cx="1043.00" cy="709.25" r="4.00" fill="#ff0000"/>
<text x="932.25" y="758.40" font-size="21.20" fill="#111"><tspan font-style="italic">k</tspan> = 0.05 h<tspan font-size="11.66" dy="-7.21">-1</tspan></text>
<text x="931.75" y="784.15" font-size="21.33" fill="#111" textLength="77.90" lengthAdjust="spacingAndGlyphs">a = 0.69</text>
<text x="932.30" y="809.15" font-size="21.56" fill="#111"><tspan font-style="italic">R</tspan><tspan font-size="10.78" dy="-7.76">2</tspan><tspan dy="7.76"> = 0.99</tspan></text>
<text x="750.70" y="781.84" font-size="25.00" fill="#111" transform="rotate(-90 750.70 781.84)" textLength="83.27" lengthAdjust="spacingAndGlyphs">Fraction</text>
<text x="1137.51" y="651.15" font-size="22.13" fill="#111" textLength="213.20" lengthAdjust="spacingAndGlyphs">PL-<tspan font-size="11.73" dy="-7.53">13</tspan><tspan dy="7.53">C-PE(18:1_18:1)</tspan></text>
<line x1="1136.25" y1="660.75" x2="1136.25" y2="828.40" stroke="#000" stroke-width="2.80"/>
<line x1="1134.85" y1="827.00" x2="1371.80" y2="827.00" stroke="#000" stroke-width="2.80"/>
<line x1="1126.75" y1="661.25" x2="1136.25" y2="661.25" stroke="#231815" stroke-width="2.00"/>
<line x1="1126.75" y1="740.00" x2="1136.25" y2="740.00" stroke="#231815" stroke-width="2.00"/>
<line x1="1126.75" y1="818.75" x2="1136.25" y2="818.75" stroke="#231815" stroke-width="2.00"/>
<line x1="1147.50" y1="827.00" x2="1147.50" y2="829.60" stroke="#000" stroke-width="1.60"/>
<line x1="1184.46" y1="827.00" x2="1184.46" y2="829.60" stroke="#000" stroke-width="1.60"/>
<line x1="1221.42" y1="827.00" x2="1221.42" y2="829.60" stroke="#000" stroke-width="1.60"/>
<line x1="1258.38" y1="827.00" x2="1258.38" y2="829.60" stroke="#000" stroke-width="1.60"/>
<line x1="1295.34" y1="827.00" x2="1295.34" y2="829.60" stroke="#000" stroke-width="1.60"/>
<line x1="1332.30" y1="827.00" x2="1332.30" y2="829.60" stroke="#000" stroke-width="1.60"/>
<line x1="1369.26" y1="827.00" x2="1369.26" y2="829.60" stroke="#000" stroke-width="1.60"/>
<text x="1091.17" y="669.90" font-size="21.20" fill="#231815">1.0</text>
<text x="1091.55" y="747.90" font-size="21.20" fill="#231815">0.5</text>
<text x="1108.83" y="826.15" font-size="21.20" fill="#231815">0</text>
<text x="1148.75" y="853.40" font-size="21.30" text-anchor="middle" fill="#231815">0</text>
<text x="1185.00" y="853.40" font-size="21.30" text-anchor="middle" fill="#231815">12</text>
<text x="1221.25" y="853.40" font-size="21.30" text-anchor="middle" fill="#231815">24</text>
<text x="1257.50" y="853.40" font-size="21.30" text-anchor="middle" fill="#231815">36</text>
<text x="1293.75" y="853.40" font-size="21.30" text-anchor="middle" fill="#231815">48</text>
<text x="1330.00" y="853.40" font-size="21.30" text-anchor="middle" fill="#231815">60</text>
<text x="1366.25" y="853.40" font-size="21.30" text-anchor="middle" fill="#231815">72</text>
<text x="1171.99" y="877.40" font-size="21.61" fill="#111" textLength="160.90" lengthAdjust="spacingAndGlyphs">Labeling time (h)</text>
<polyline points="1147.50,818.75 1149.04,817.62 1150.58,816.52 1152.12,815.42 1153.66,814.35 1155.20,813.29 1156.74,812.24 1158.28,811.21 1159.82,810.20 1161.36,809.20 1162.90,808.22 1164.44,807.25 1165.98,806.30 1167.52,805.36 1169.06,804.43 1170.60,803.52 1172.14,802.62 1173.68,801.73 1175.22,800.86 1176.76,800.00 1178.30,799.16 1179.84,798.32 1181.38,797.50 1182.92,796.69 1184.46,795.89 1186.00,795.11 1187.54,794.34 1189.08,793.57 1190.62,792.82 1192.16,792.08 1193.70,791.35 1195.24,790.64 1196.78,789.93 1198.32,789.23 1199.86,788.55 1201.40,787.87 1202.94,787.21 1204.48,786.55 1206.02,785.90 1207.56,785.27 1209.10,784.64 1210.64,784.02 1212.18,783.41 1213.72,782.81 1215.26,782.22 1216.80,781.64 1218.34,781.07 1219.88,780.50 1221.42,779.95 1222.96,779.40 1224.50,778.86 1226.04,778.33 1227.58,777.81 1229.12,777.29 1230.66,776.78 1232.20,776.28 1233.74,775.79 1235.28,775.30 1236.82,774.82 1238.36,774.35 1239.90,773.89 1241.44,773.43 1242.98,772.98 1244.52,772.53 1246.06,772.10 1247.60,771.67 1249.14,771.24 1250.68,770.82 1252.22,770.41 1253.76,770.01 1255.30,769.61 1256.84,769.21 1258.38,768.82 1259.92,768.44 1261.46,768.06 1263.00,767.69 1264.54,767.33 1266.08,766.97 1267.62,766.61 1269.16,766.26 1270.70,765.92 1272.24,765.58 1273.78,765.25 1275.32,764.92 1276.86,764.59 1278.40,764.27 1279.94,763.96 1281.48,763.65 1283.02,763.35 1284.56,763.04 1286.10,762.75 1287.64,762.46 1289.18,762.17 1290.72,761.89 1292.26,761.61 1293.80,761.33 1295.34,761.06 1296.88,760.80 1298.42,760.53 1299.96,760.27 1301.50,760.02 1303.04,759.77 1304.58,759.52 1306.12,759.28 1307.66,759.04 1309.20,758.80 1310.74,758.57 1312.28,758.34 1313.82,758.11 1315.36,757.89 1316.90,757.67 1318.44,757.45 1319.98,757.24 1321.52,757.03 1323.06,756.82 1324.60,756.62 1326.14,756.42 1327.68,756.22 1329.22,756.03 1330.76,755.84 1332.30,755.65 1333.84,755.46 1335.38,755.28 1336.92,755.10 1338.46,754.92 1340.00,754.74 1341.54,754.57 1343.08,754.40 1344.62,754.23 1346.16,754.07 1347.70,753.91 1349.24,753.75 1350.78,753.59 1352.32,753.43 1353.86,753.28 1355.40,753.13 1356.94,752.98 1358.48,752.83 1360.02,752.69 1361.56,752.55 1363.10,752.41 1364.64,752.27 1366.18,752.13 1367.72,752.00 1369.26,751.87" fill="none" stroke="#000" stroke-width="3.3" stroke-linejoin="round"/>
<circle cx="1147.50" cy="818.75" r="4.00" fill="#ff0000"/>
<circle cx="1166.00" cy="808.75" r="4.00" fill="#ff0000"/>
<circle cx="1184.25" cy="795.00" r="4.00" fill="#ff0000"/>
<circle cx="1221.25" cy="774.50" r="4.00" fill="#ff0000"/>
<circle cx="1295.00" cy="761.75" r="4.00" fill="#ff0000"/>
<circle cx="1369.25" cy="750.75" r="4.00" fill="#ff0000"/>
<text x="1155.25" y="687.90" font-size="21.20" fill="#111"><tspan font-style="italic">k</tspan> = 0.03 h<tspan font-size="11.66" dy="-7.21">-1</tspan></text>
<text x="1154.75" y="713.65" font-size="21.33" fill="#111" textLength="77.90" lengthAdjust="spacingAndGlyphs">a = 0.47</text>
<text x="1155.30" y="738.65" font-size="21.56" fill="#111"><tspan font-style="italic">R</tspan><tspan font-size="10.78" dy="-7.76">2</tspan><tspan dy="7.76"> = 0.99</tspan></text>
</g>
<g id="panel-f">
<text x="1.50" y="941.90" font-size="31.30">f</text>
<text x="109.20" y="967.65" font-size="24.79" fill="#231815">PL-<tspan font-size="13.14" dy="-8.43">13</tspan><tspan dy="8.43">C-PE(20:1_20:4)</tspan></text>
<path d="M153.00 1158.60 L155.80 1158.60 L155.80 1155.60 L176.20 1155.60 L179.00 1158.80 L179.00 1168.25 L153.00 1168.25 Z" fill="#fb7f6c"/>
<path d="M153.00 1168.65 L155.80 1168.65 L155.80 1165.65 L176.20 1165.65 L179.00 1168.85 L179.00 1170.25 L153.00 1170.25 Z" fill="#4a8ce1"/>
<path d="M153.00 1169.25 L179.00 1169.25 L179.00 1202.50 Q179.00 1204.50 177.00 1204.50 L155.00 1204.50 Q153.00 1204.50 153.00 1202.50 Z" fill="#4da3fb"/>
<line x1="166.00" y1="1154.25" x2="166.00" y2="1156.60" stroke="#000" stroke-width="1.60"/>
<line x1="160.20" y1="1154.25" x2="171.80" y2="1154.25" stroke="#000" stroke-width="2.00"/>
<line x1="160.20" y1="1164.85" x2="171.80" y2="1164.85" stroke="#000" stroke-width="2.00"/>
<path d="M187.50 1115.60 L190.30 1115.60 L190.30 1112.60 L210.70 1112.60 L213.50 1115.80 L213.50 1133.25 L187.50 1133.25 Z" fill="#fb7f6c"/>
<path d="M187.50 1133.65 L190.30 1133.65 L190.30 1130.65 L210.70 1130.65 L213.50 1133.85 L213.50 1135.25 L187.50 1135.25 Z" fill="#4a8ce1"/>
<path d="M187.50 1134.25 L213.50 1134.25 L213.50 1202.50 Q213.50 1204.50 211.50 1204.50 L189.50 1204.50 Q187.50 1204.50 187.50 1202.50 Z" fill="#4da3fb"/>
<line x1="200.50" y1="1111.00" x2="200.50" y2="1113.60" stroke="#000" stroke-width="1.60"/>
<line x1="194.70" y1="1111.00" x2="206.30" y2="1111.00" stroke="#000" stroke-width="2.00"/>
<line x1="194.70" y1="1129.85" x2="206.30" y2="1129.85" stroke="#000" stroke-width="2.00"/>
<path d="M222.50 1078.10 L225.30 1078.10 L225.30 1075.10 L245.70 1075.10 L248.50 1078.30 L248.50 1099.00 L222.50 1099.00 Z" fill="#fb7f6c"/>
<path d="M222.50 1099.40 L225.30 1099.40 L225.30 1096.40 L245.70 1096.40 L248.50 1099.60 L248.50 1101.00 L222.50 1101.00 Z" fill="#4a8ce1"/>
<path d="M222.50 1100.00 L248.50 1100.00 L248.50 1202.50 Q248.50 1204.50 246.50 1204.50 L224.50 1204.50 Q222.50 1204.50 222.50 1202.50 Z" fill="#4da3fb"/>
<line x1="235.50" y1="1074.25" x2="235.50" y2="1076.10" stroke="#000" stroke-width="1.60"/>
<line x1="229.70" y1="1074.25" x2="241.30" y2="1074.25" stroke="#000" stroke-width="2.00"/>
<line x1="229.70" y1="1095.60" x2="241.30" y2="1095.60" stroke="#000" stroke-width="2.00"/>
<path d="M257.00 1060.50 L259.80 1060.50 L259.80 1057.50 L280.20 1057.50 L283.00 1060.70 L283.00 1079.00 L257.00 1079.00 Z" fill="#fb7f6c"/>
<path d="M257.00 1079.40 L259.80 1079.40 L259.80 1076.40 L280.20 1076.40 L283.00 1079.60 L283.00 1081.00 L257.00 1081.00 Z" fill="#4a8ce1"/>
<path d="M257.00 1080.00 L283.00 1080.00 L283.00 1202.50 Q283.00 1204.50 281.00 1204.50 L259.00 1204.50 Q257.00 1204.50 257.00 1202.50 Z" fill="#4da3fb"/>
<line x1="270.00" y1="1057.00" x2="270.00" y2="1058.50" stroke="#000" stroke-width="1.60"/>
<line x1="264.20" y1="1057.00" x2="275.80" y2="1057.00" stroke="#000" stroke-width="2.00"/>
<line x1="264.20" y1="1076.35" x2="275.80" y2="1076.35" stroke="#000" stroke-width="2.00"/>
<path d="M292.00 1037.35 L294.80 1037.35 L294.80 1034.35 L315.20 1034.35 L318.00 1037.55 L318.00 1061.50 L292.00 1061.50 Z" fill="#fb7f6c"/>
<path d="M292.00 1061.90 L294.80 1061.90 L294.80 1058.90 L315.20 1058.90 L318.00 1062.10 L318.00 1063.50 L292.00 1063.50 Z" fill="#4a8ce1"/>
<path d="M292.00 1062.50 L318.00 1062.50 L318.00 1202.50 Q318.00 1204.50 316.00 1204.50 L294.00 1204.50 Q292.00 1204.50 292.00 1202.50 Z" fill="#4da3fb"/>
<line x1="305.00" y1="1033.50" x2="305.00" y2="1035.35" stroke="#000" stroke-width="1.60"/>
<line x1="299.20" y1="1033.50" x2="310.80" y2="1033.50" stroke="#000" stroke-width="2.00"/>
<line x1="299.20" y1="1058.60" x2="310.80" y2="1058.60" stroke="#000" stroke-width="2.00"/>
<line x1="108.10" y1="980.00" x2="108.10" y2="1203.25" stroke="#000" stroke-width="3.30"/>
<line x1="98.50" y1="1201.60" x2="328.80" y2="1201.60" stroke="#000" stroke-width="3.30"/>
<line x1="98.50" y1="981.50" x2="108.10" y2="981.50" stroke="#000" stroke-width="3.10"/>
<line x1="98.50" y1="1091.50" x2="108.10" y2="1091.50" stroke="#000" stroke-width="3.10"/>
<line x1="131.25" y1="1201.60" x2="131.25" y2="1211.00" stroke="#000" stroke-width="3.10"/>
<line x1="165.50" y1="1201.60" x2="165.50" y2="1211.00" stroke="#000" stroke-width="3.10"/>
<line x1="200.00" y1="1201.60" x2="200.00" y2="1211.00" stroke="#000" stroke-width="3.10"/>
<line x1="235.00" y1="1201.60" x2="235.00" y2="1211.00" stroke="#000" stroke-width="3.10"/>
<line x1="269.50" y1="1201.60" x2="269.50" y2="1211.00" stroke="#000" stroke-width="3.10"/>
<line x1="304.50" y1="1201.60" x2="304.50" y2="1211.00" stroke="#000" stroke-width="3.10"/>
<text x="63.62" y="987.65" font-size="22.20" fill="#111">1.0</text>
<text x="64.12" y="1096.90" font-size="22.20" fill="#111">0.5</text>
<text x="64.12" y="1206.90" font-size="22.20" fill="#111">0.0</text>
<text x="131.25" y="1230.15" font-size="22.00" text-anchor="middle" fill="#111">0</text>
<text x="165.50" y="1230.15" font-size="22.00" text-anchor="middle" fill="#111">6</text>
<text x="200.00" y="1230.15" font-size="22.00" text-anchor="middle" fill="#111">12</text>
<text x="235.00" y="1230.15" font-size="22.00" text-anchor="middle" fill="#111">24</text>
<text x="269.50" y="1230.15" font-size="22.00" text-anchor="middle" fill="#111">48</text>
<text x="304.50" y="1230.15" font-size="22.00" text-anchor="middle" fill="#111">72</text>
<text x="123.00" y="1255.10" font-size="21.74" fill="#111">Labeling time (h)</text>
<text x="49.80" y="1135.77" font-size="25.60" fill="#111" transform="rotate(-90 49.80 1135.77)" textLength="86.29" lengthAdjust="spacingAndGlyphs">Fraction</text>
<rect x="118.75" y="981.50" width="27.50" height="10.30" fill="#4da3fb"/>
<rect x="118.75" y="1001.60" width="27.50" height="10.30" fill="#fb7f6c"/>
<text x="160.76" y="993.90" font-size="21.38" fill="#111">PSD pathway</text>
<text x="161.49" y="1015.90" font-size="21.36" fill="#111" textLength="169.89" lengthAdjust="spacingAndGlyphs">CDP-Etn pathway</text>
<text x="452.20" y="968.90" font-size="24.79" fill="#231815">PL-<tspan font-size="13.14" dy="-8.43">13</tspan><tspan dy="8.43">C-PE(18:1_18:1)</tspan></text>
<path d="M502.80 1167.50 L505.60 1167.50 L505.60 1164.50 L526.00 1164.50 L528.80 1167.70 L528.80 1188.25 L502.80 1188.25 Z" fill="#fb7f6c"/>
<path d="M502.80 1188.65 L505.60 1188.65 L505.60 1185.65 L526.00 1185.65 L528.80 1188.85 L528.80 1190.25 L502.80 1190.25 Z" fill="#4a8ce1"/>
<path d="M502.80 1189.25 L528.80 1189.25 L528.80 1202.50 Q528.80 1204.50 526.80 1204.50 L504.80 1204.50 Q502.80 1204.50 502.80 1202.50 Z" fill="#4da3fb"/>
<line x1="515.80" y1="1164.00" x2="515.80" y2="1165.50" stroke="#000" stroke-width="1.60"/>
<line x1="510.00" y1="1164.00" x2="521.60" y2="1164.00" stroke="#000" stroke-width="2.00"/>
<line x1="510.00" y1="1185.60" x2="521.60" y2="1185.60" stroke="#000" stroke-width="2.00"/>
<path d="M537.80 1124.00 L540.60 1124.00 L540.60 1121.00 L561.00 1121.00 L563.80 1124.20 L563.80 1168.25 L537.80 1168.25 Z" fill="#fb7f6c"/>
<path d="M537.80 1168.65 L540.60 1168.65 L540.60 1165.65 L561.00 1165.65 L563.80 1168.85 L563.80 1170.25 L537.80 1170.25 Z" fill="#4a8ce1"/>
<path d="M537.80 1169.25 L563.80 1169.25 L563.80 1202.50 Q563.80 1204.50 561.80 1204.50 L539.80 1204.50 Q537.80 1204.50 537.80 1202.50 Z" fill="#4da3fb"/>
<line x1="550.80" y1="1120.50" x2="550.80" y2="1122.00" stroke="#000" stroke-width="1.60"/>
<line x1="545.00" y1="1120.50" x2="556.60" y2="1120.50" stroke="#000" stroke-width="2.00"/>
<line x1="545.00" y1="1164.85" x2="556.60" y2="1164.85" stroke="#000" stroke-width="2.00"/>
<path d="M572.20 1063.10 L575.00 1063.10 L575.00 1060.10 L595.40 1060.10 L598.20 1063.30 L598.20 1140.25 L572.20 1140.25 Z" fill="#fb7f6c"/>
<path d="M572.20 1140.65 L575.00 1140.65 L575.00 1137.65 L595.40 1137.65 L598.20 1140.85 L598.20 1142.25 L572.20 1142.25 Z" fill="#4a8ce1"/>
<path d="M572.20 1141.25 L598.20 1141.25 L598.20 1202.50 Q598.20 1204.50 596.20 1204.50 L574.20 1204.50 Q572.20 1204.50 572.20 1202.50 Z" fill="#4da3fb"/>
<line x1="585.20" y1="1059.00" x2="585.20" y2="1061.10" stroke="#000" stroke-width="1.60"/>
<line x1="579.40" y1="1059.00" x2="591.00" y2="1059.00" stroke="#000" stroke-width="2.00"/>
<line x1="579.40" y1="1137.60" x2="591.00" y2="1137.60" stroke="#000" stroke-width="2.00"/>
<path d="M607.00 1046.85 L609.80 1046.85 L609.80 1043.85 L630.20 1043.85 L633.00 1047.05 L633.00 1122.50 L607.00 1122.50 Z" fill="#fb7f6c"/>
<path d="M607.00 1122.90 L609.80 1122.90 L609.80 1119.90 L630.20 1119.90 L633.00 1123.10 L633.00 1124.50 L607.00 1124.50 Z" fill="#4a8ce1"/>
<path d="M607.00 1123.50 L633.00 1123.50 L633.00 1202.50 Q633.00 1204.50 631.00 1204.50 L609.00 1204.50 Q607.00 1204.50 607.00 1202.50 Z" fill="#4da3fb"/>
<line x1="620.00" y1="1039.70" x2="620.00" y2="1044.85" stroke="#000" stroke-width="1.60"/>
<line x1="614.20" y1="1039.70" x2="625.80" y2="1039.70" stroke="#000" stroke-width="2.00"/>
<line x1="614.20" y1="1119.85" x2="625.80" y2="1119.85" stroke="#000" stroke-width="2.00"/>
<path d="M641.90 1032.75 L644.70 1032.75 L644.70 1029.75 L665.10 1029.75 L667.90 1032.95 L667.90 1107.00 L641.90 1107.00 Z" fill="#fb7f6c"/>
<path d="M641.90 1107.40 L644.70 1107.40 L644.70 1104.40 L665.10 1104.40 L667.90 1107.60 L667.90 1109.00 L641.90 1109.00 Z" fill="#4a8ce1"/>
<path d="M641.90 1108.00 L667.90 1108.00 L667.90 1202.50 Q667.90 1204.50 665.90 1204.50 L643.90 1204.50 Q641.90 1204.50 641.90 1202.50 Z" fill="#4da3fb"/>
<line x1="654.90" y1="1029.25" x2="654.90" y2="1030.75" stroke="#000" stroke-width="1.60"/>
<line x1="649.10" y1="1029.25" x2="660.70" y2="1029.25" stroke="#000" stroke-width="2.00"/>
<line x1="649.10" y1="1104.35" x2="660.70" y2="1104.35" stroke="#000" stroke-width="2.00"/>
<line x1="458.10" y1="980.00" x2="458.10" y2="1203.25" stroke="#000" stroke-width="3.30"/>
<line x1="448.60" y1="1201.60" x2="679.30" y2="1201.60" stroke="#000" stroke-width="3.30"/>
<line x1="448.60" y1="981.50" x2="458.10" y2="981.50" stroke="#000" stroke-width="3.10"/>
<line x1="448.60" y1="1091.00" x2="458.10" y2="1091.00" stroke="#000" stroke-width="3.10"/>
<line x1="481.00" y1="1201.60" x2="481.00" y2="1211.00" stroke="#000" stroke-width="3.10"/>
<line x1="515.50" y1="1201.60" x2="515.50" y2="1211.00" stroke="#000" stroke-width="3.10"/>
<line x1="550.50" y1="1201.60" x2="550.50" y2="1211.00" stroke="#000" stroke-width="3.10"/>
<line x1="585.00" y1="1201.60" x2="585.00" y2="1211.00" stroke="#000" stroke-width="3.10"/>
<line x1="620.00" y1="1201.60" x2="620.00" y2="1211.00" stroke="#000" stroke-width="3.10"/>
<line x1="654.75" y1="1201.60" x2="654.75" y2="1211.00" stroke="#000" stroke-width="3.10"/>
<text x="414.12" y="990.65" font-size="22.20" fill="#111">1.0</text>
<text x="414.62" y="1099.65" font-size="22.20" fill="#111">0.5</text>
<text x="414.62" y="1209.40" font-size="22.20" fill="#111">0.0</text>
<text x="481.00" y="1229.65" font-size="22.00" text-anchor="middle" fill="#111">0</text>
<text x="515.50" y="1229.65" font-size="22.00" text-anchor="middle" fill="#111">6</text>
<text x="550.50" y="1229.65" font-size="22.00" text-anchor="middle" fill="#111">12</text>
<text x="585.00" y="1229.65" font-size="22.00" text-anchor="middle" fill="#111">24</text>
<text x="620.00" y="1229.65" font-size="22.00" text-anchor="middle" fill="#111">48</text>
<text x="654.75" y="1229.65" font-size="22.00" text-anchor="middle" fill="#111">72</text>
<text x="493.55" y="1255.10" font-size="21.74" fill="#111">Labeling time (h)</text>
<text x="401.20" y="1138.10" font-size="25.60" fill="#111" transform="rotate(-90 401.20 1138.10)" textLength="87.38" lengthAdjust="spacingAndGlyphs">Fraction</text>
</g>
<g id="panel-g">
<text x="719.25" y="941.90" font-size="31.30">g</text>
<path d="M834.20 956.30 L837.00 956.30 L837.00 953.30 L879.20 953.30 L882.00 956.50 L882.00 1007.00 L834.20 1007.00 Z" fill="#8f8f8f"/>
<path d="M834.20 1005.10 L837.00 1005.10 L837.00 1002.10 L879.20 1002.10 L882.00 1005.30 L882.00 1006.70 L834.20 1006.70 Z" fill="#e96b58"/>
<path d="M834.20 1005.70 L882.00 1005.70 L882.00 1050.00 L834.20 1050.00 Z" fill="#fb7f6c"/>
<path d="M834.20 1048.30 L837.00 1048.30 L837.00 1045.30 L879.20 1045.30 L882.00 1048.50 L882.00 1049.90 L834.20 1049.90 Z" fill="#4a8ce1"/>
<path d="M834.20 1048.90 L882.00 1048.90 L882.00 1182.75 Q882.00 1186.25 878.50 1186.25 L837.70 1186.25 Q834.20 1186.25 834.20 1182.75 Z" fill="#4da3fb"/>
<line x1="846.50" y1="953.60" x2="869.00" y2="953.60" stroke="#000" stroke-width="2.20"/>
<line x1="846.50" y1="1001.50" x2="869.00" y2="1001.50" stroke="#000" stroke-width="2.20"/>
<line x1="846.50" y1="1046.10" x2="869.00" y2="1046.10" stroke="#000" stroke-width="2.20"/>
<line x1="825.60" y1="941.70" x2="825.60" y2="1184.90" stroke="#000" stroke-width="3.20"/>
<line x1="815.80" y1="1183.30" x2="825.60" y2="1183.30" stroke="#000" stroke-width="3.20"/>
<line x1="820.00" y1="1171.86" x2="825.60" y2="1171.86" stroke="#000" stroke-width="2.90"/>
<line x1="820.00" y1="1160.42" x2="825.60" y2="1160.42" stroke="#000" stroke-width="2.90"/>
<line x1="820.00" y1="1148.98" x2="825.60" y2="1148.98" stroke="#000" stroke-width="2.90"/>
<line x1="820.00" y1="1137.54" x2="825.60" y2="1137.54" stroke="#000" stroke-width="2.90"/>
<line x1="820.00" y1="1126.10" x2="825.60" y2="1126.10" stroke="#000" stroke-width="2.90"/>
<line x1="820.00" y1="1114.66" x2="825.60" y2="1114.66" stroke="#000" stroke-width="2.90"/>
<line x1="820.00" y1="1103.22" x2="825.60" y2="1103.22" stroke="#000" stroke-width="2.90"/>
<line x1="820.00" y1="1091.78" x2="825.60" y2="1091.78" stroke="#000" stroke-width="2.90"/>
<line x1="820.00" y1="1080.34" x2="825.60" y2="1080.34" stroke="#000" stroke-width="2.90"/>
<line x1="815.80" y1="1068.90" x2="825.60" y2="1068.90" stroke="#000" stroke-width="3.20"/>
<line x1="820.00" y1="1057.46" x2="825.60" y2="1057.46" stroke="#000" stroke-width="2.90"/>
<line x1="820.00" y1="1046.02" x2="825.60" y2="1046.02" stroke="#000" stroke-width="2.90"/>
<line x1="820.00" y1="1034.58" x2="825.60" y2="1034.58" stroke="#000" stroke-width="2.90"/>
<line x1="820.00" y1="1023.14" x2="825.60" y2="1023.14" stroke="#000" stroke-width="2.90"/>
<line x1="820.00" y1="1011.70" x2="825.60" y2="1011.70" stroke="#000" stroke-width="2.90"/>
<line x1="820.00" y1="1000.26" x2="825.60" y2="1000.26" stroke="#000" stroke-width="2.90"/>
<line x1="820.00" y1="988.82" x2="825.60" y2="988.82" stroke="#000" stroke-width="2.90"/>
<line x1="820.00" y1="977.38" x2="825.60" y2="977.38" stroke="#000" stroke-width="2.90"/>
<line x1="820.00" y1="965.94" x2="825.60" y2="965.94" stroke="#000" stroke-width="2.90"/>
<line x1="815.80" y1="954.50" x2="825.60" y2="954.50" stroke="#000" stroke-width="3.20"/>
<line x1="820.00" y1="943.06" x2="825.60" y2="943.06" stroke="#000" stroke-width="2.90"/>
<text x="758.00" y="960.40" font-size="21.20" fill="#111">100%</text>
<text x="766.75" y="1074.15" font-size="21.20" fill="#111">50%</text>
<text x="776.50" y="1187.15" font-size="21.20" fill="#111">0%</text>
<text x="751.25" y="1121.50" font-size="19.39" fill="#111" transform="rotate(-90 751.25 1121.50)">Percentages</text>
<text x="898.78" y="983.75" font-size="21.20" fill="#111" textLength="61.17" lengthAdjust="spacingAndGlyphs">20.9%</text>
<text x="898.26" y="1032.50" font-size="21.20" fill="#111" textLength="61.70" lengthAdjust="spacingAndGlyphs">19.2%</text>
<text x="899.04" y="1115.00" font-size="21.20" fill="#111" textLength="60.91" lengthAdjust="spacingAndGlyphs">59.9%</text>
<rect x="776.2" y="1201.60" width="26.3" height="13.6" rx="3" fill="#4da3fb"/>
<text x="813.25" y="1214.20" font-size="21.17" fill="#111">PSD pathway</text>
<rect x="776.2" y="1222.80" width="26.3" height="13.6" rx="3" fill="#fb7f6c"/>
<text x="814.00" y="1235.40" font-size="21.04" fill="#111">CDP-Etn pathway</text>
<rect x="776.2" y="1244.00" width="26.3" height="13.6" rx="3" fill="#8f8f8f"/>
<text x="813.99" y="1256.40" font-size="21.12" fill="#111" textLength="147.84" lengthAdjust="spacingAndGlyphs">Other pathways</text>
</g>
<g id="panel-h">
<text x="995.30" y="941.90" font-size="31.30">h</text>
<text x="1106.46" y="966.65" font-size="21.38" fill="#111">PSD pathway</text>
<line x1="1093.40" y1="988.50" x2="1093.40" y2="1211.35" stroke="#000" stroke-width="3.30"/>
<line x1="1083.60" y1="1209.70" x2="1241.30" y2="1209.70" stroke="#000" stroke-width="3.30"/>
<line x1="1083.60" y1="990.00" x2="1093.40" y2="990.00" stroke="#000" stroke-width="3.00"/>
<line x1="1083.60" y1="1100.00" x2="1093.40" y2="1100.00" stroke="#000" stroke-width="3.00"/>
<line x1="1135.00" y1="1209.70" x2="1135.00" y2="1218.75" stroke="#000" stroke-width="3.00"/>
<line x1="1198.00" y1="1209.70" x2="1198.00" y2="1218.75" stroke="#000" stroke-width="3.00"/>
<line x1="1117.50" y1="1111.00" x2="1156.00" y2="1111.00" stroke="#231815" stroke-width="2.40"/>
<line x1="1177.00" y1="1068.40" x2="1219.00" y2="1068.40" stroke="#000" stroke-width="3.00"/>
<g opacity="0.93">
<circle cx="1135.00" cy="1062.50" r="4.80" fill="#1b87fd"/>
<circle cx="1135.00" cy="1068.75" r="4.80" fill="#1b87fd"/>
<circle cx="1117.50" cy="1110.50" r="4.80" fill="#1b87fd"/>
<circle cx="1117.50" cy="1121.25" r="4.80" fill="#1b87fd"/>
<circle cx="1129.25" cy="1115.00" r="4.80" fill="#1b87fd"/>
<circle cx="1140.75" cy="1108.75" r="4.80" fill="#1b87fd"/>
<circle cx="1140.75" cy="1120.00" r="4.80" fill="#1b87fd"/>
<circle cx="1153.00" cy="1105.00" r="4.80" fill="#1b87fd"/>
<circle cx="1153.00" cy="1120.00" r="4.80" fill="#1b87fd"/>
<rect x="1186.95" y="1042.70" width="9.60" height="9.60" fill="#ff5e3e" rx="2.40"/>
<rect x="1199.70" y="1042.70" width="9.60" height="9.60" fill="#ff5e3e" rx="2.40"/>
<rect x="1186.95" y="1050.70" width="9.60" height="9.60" fill="#ff5e3e" rx="2.40"/>
<rect x="1199.70" y="1053.20" width="9.60" height="9.60" fill="#ff5e3e" rx="2.40"/>
<rect x="1193.20" y="1063.45" width="9.60" height="9.60" fill="#ff5e3e" rx="2.40"/>
<rect x="1186.95" y="1070.70" width="9.60" height="9.60" fill="#ff5e3e" rx="2.40"/>
<rect x="1199.70" y="1070.70" width="9.60" height="9.60" fill="#ff5e3e" rx="2.40"/>
<rect x="1193.20" y="1090.20" width="9.60" height="9.60" fill="#ff5e3e" rx="2.40"/>
<rect x="1193.20" y="1100.20" width="9.60" height="9.60" fill="#ff5e3e" rx="2.40"/>
</g>
<text x="1051.40" y="997.90" font-size="21.10" fill="#111">1.0</text>
<text x="1051.90" y="1107.90" font-size="21.10" fill="#111">0.5</text>
<text x="1051.78" y="1217.90" font-size="21.10" fill="#111">0.0</text>
<text x="1098.30" y="1242.90" font-size="20.75" fill="#111">C18:1</text>
<text x="1171.10" y="1242.90" font-size="21.59" fill="#111">Others</text>
<text x="1109.80" y="1019.15" font-size="21.29" fill="#111"><tspan font-style="italic">p</tspan> = 0.0038</text>
<line x1="1132.00" y1="1026.25" x2="1200.00" y2="1026.25" stroke="#000" stroke-width="2.60"/>
<text x="1040.20" y="1147.13" font-size="25.60" fill="#111" transform="rotate(-90 1040.20 1147.13)" textLength="88.69" lengthAdjust="spacingAndGlyphs">Fraction</text>
<text x="1301.20" y="966.65" font-size="21.18" fill="#111">CDP-Etn pathway</text>
<line x1="1302.90" y1="990.00" x2="1302.90" y2="1213.45" stroke="#000" stroke-width="3.30"/>
<line x1="1293.60" y1="1211.80" x2="1450.80" y2="1211.80" stroke="#000" stroke-width="3.30"/>
<line x1="1293.60" y1="991.25" x2="1302.90" y2="991.25" stroke="#000" stroke-width="3.00"/>
<line x1="1293.60" y1="1102.00" x2="1302.90" y2="1102.00" stroke="#000" stroke-width="3.00"/>
<line x1="1344.90" y1="1211.80" x2="1344.90" y2="1221.25" stroke="#000" stroke-width="3.00"/>
<line x1="1407.90" y1="1211.80" x2="1407.90" y2="1221.25" stroke="#000" stroke-width="3.00"/>
<line x1="1324.00" y1="1136.30" x2="1366.00" y2="1136.30" stroke="#231815" stroke-width="3.30"/>
<line x1="1387.00" y1="1187.50" x2="1429.00" y2="1187.50" stroke="#000" stroke-width="3.30"/>
<g opacity="0.93">
<circle cx="1344.75" cy="1096.25" r="4.80" fill="#1b87fd"/>
<circle cx="1331.50" cy="1117.00" r="4.80" fill="#1b87fd"/>
<circle cx="1344.75" cy="1118.00" r="4.80" fill="#1b87fd"/>
<circle cx="1358.50" cy="1133.00" r="4.80" fill="#1b87fd"/>
<circle cx="1331.50" cy="1136.25" r="4.80" fill="#1b87fd"/>
<circle cx="1344.75" cy="1138.75" r="4.80" fill="#1b87fd"/>
<circle cx="1344.75" cy="1153.25" r="4.80" fill="#1b87fd"/>
<circle cx="1351.50" cy="1185.50" r="4.80" fill="#1b87fd"/>
<circle cx="1338.25" cy="1190.50" r="4.80" fill="#1b87fd"/>
<rect x="1389.95" y="1129.45" width="9.60" height="9.60" fill="#ff5e3e" rx="2.40"/>
<rect x="1402.95" y="1135.70" width="9.60" height="9.60" fill="#ff5e3e" rx="2.40"/>
<rect x="1402.95" y="1165.20" width="9.60" height="9.60" fill="#ff5e3e" rx="2.40"/>
<rect x="1389.95" y="1182.20" width="9.60" height="9.60" fill="#ff5e3e" rx="2.40"/>
<rect x="1416.20" y="1182.20" width="9.60" height="9.60" fill="#ff5e3e" rx="2.40"/>
<rect x="1402.95" y="1187.70" width="9.60" height="9.60" fill="#ff5e3e" rx="2.40"/>
<rect x="1402.95" y="1195.70" width="9.60" height="9.60" fill="#ff5e3e" rx="2.40"/>
<rect x="1416.20" y="1200.20" width="9.60" height="9.60" fill="#ff5e3e" rx="2.40"/>
<rect x="1389.95" y="1205.20" width="9.60" height="9.60" fill="#ff5e3e" rx="2.40"/>
</g>
<text x="1261.40" y="999.15" font-size="21.10" fill="#111">1.0</text>
<text x="1261.90" y="1108.40" font-size="21.10" fill="#111">0.5</text>
<text x="1261.78" y="1218.40" font-size="21.10" fill="#111">0.0</text>
<text x="1308.50" y="1242.90" font-size="20.75" fill="#111">C18:1</text>
<text x="1380.85" y="1242.90" font-size="21.59" fill="#111">Others</text>
<text x="1324.50" y="1061.65" font-size="21.29" fill="#111"><tspan font-style="italic">p</tspan> = 0.0109</text>
<line x1="1343.25" y1="1069.25" x2="1411.00" y2="1069.25" stroke="#000" stroke-width="2.60"/>
</g>
</svg>
</body></html>
